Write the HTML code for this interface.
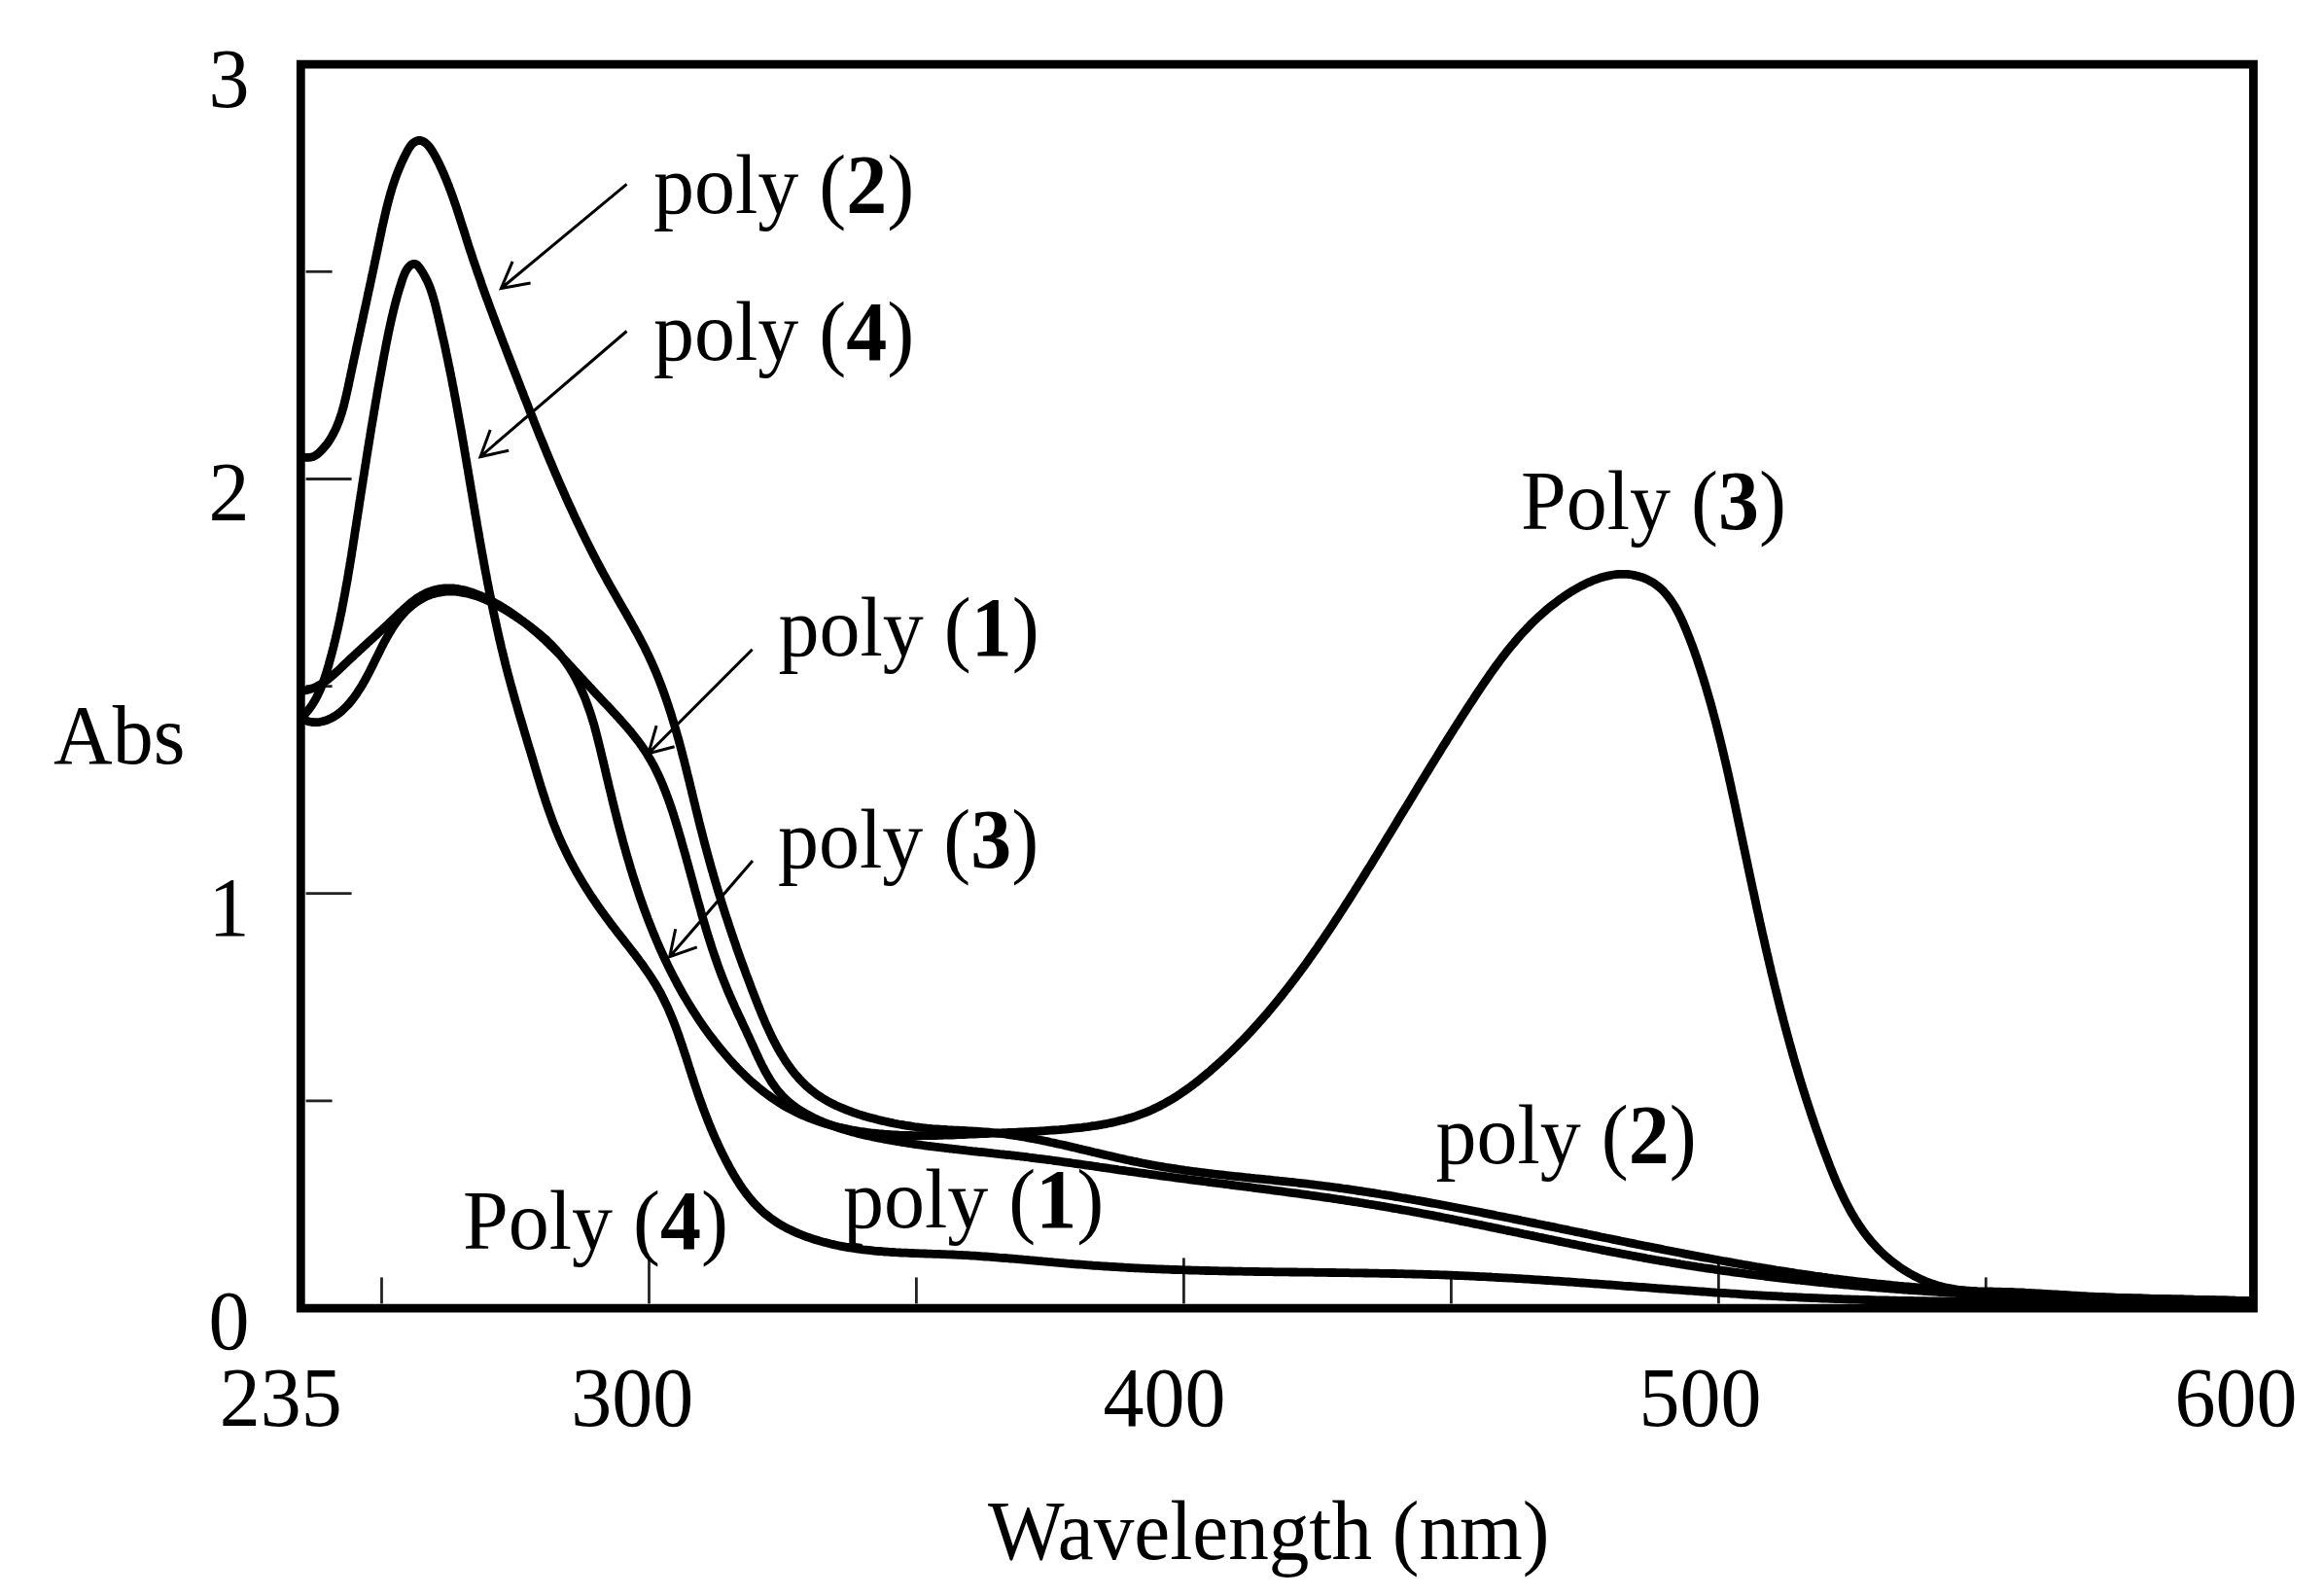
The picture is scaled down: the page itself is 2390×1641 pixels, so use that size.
<!DOCTYPE html>
<html><head><meta charset="utf-8"><title>UV-vis absorption spectra</title>
<style>html,body{margin:0;padding:0;background:#fff}svg{display:block}</style></head>
<body>
<svg width="2390" height="1641" viewBox="0 0 2390 1641">
<rect x="0" y="0" width="2390" height="1641" fill="#fff"/>
<g stroke="#222" stroke-width="2.8" fill="none"><line x1="392.5" y1="1340.4" x2="392.5" y2="1313.4"/><line x1="667.5" y1="1340.4" x2="667.5" y2="1293.4"/><line x1="942.4" y1="1340.4" x2="942.4" y2="1313.4"/><line x1="1217.4" y1="1340.4" x2="1217.4" y2="1293.4"/><line x1="1492.4" y1="1340.4" x2="1492.4" y2="1313.4"/><line x1="1767.4" y1="1340.4" x2="1767.4" y2="1293.4"/><line x1="2042.3" y1="1340.4" x2="2042.3" y2="1313.4"/><line x1="314.6" y1="1131.9" x2="341.6" y2="1131.9"/><line x1="314.6" y1="918.7" x2="361.6" y2="918.7"/><line x1="314.6" y1="705.6" x2="341.6" y2="705.6"/><line x1="314.6" y1="492.5" x2="361.6" y2="492.5"/><line x1="314.6" y1="279.3" x2="341.6" y2="279.3"/></g>
<g stroke="#000" stroke-width="8.8" fill="none" stroke-linejoin="round" stroke-linecap="butt">
<path id="p2" d="M307.9 469.7L310.6 470.1L313.4 470.3L316.2 470.4L318.9 470.3L321.5 469.7L323.8 468.6L326.0 467.2L328.0 465.6L329.9 463.8L331.7 461.9L333.4 459.9L335.1 457.9L336.7 455.9L338.2 453.7L339.6 451.6L340.9 449.3L342.2 447.1L343.4 444.8L344.6 442.4L345.7 440.0L346.7 437.6L347.7 435.1L348.7 432.6L349.6 430.1L350.4 427.6L351.3 425.0L352.0 422.4L352.8 419.8L353.5 417.1L354.2 414.5L354.8 411.8L355.5 409.1L356.1 406.4L356.7 403.7L357.3 401.1L357.9 398.4L358.5 395.7L359.0 393.0L359.6 390.3L360.2 387.6L360.7 384.9L361.3 382.3L361.9 379.6L362.4 377.0L363.0 374.3L363.6 371.7L364.1 369.0L364.7 366.4L365.3 363.8L365.8 361.2L366.4 358.5L366.9 355.9L367.5 353.3L368.1 350.7L368.6 348.1L369.2 345.5L369.8 342.9L370.3 340.3L370.9 337.7L371.4 335.1L372.0 332.5L372.6 329.9L373.1 327.4L373.7 324.8L374.2 322.2L374.8 319.6L375.4 317.0L375.9 314.5L376.5 311.9L377.0 309.3L377.6 306.7L378.1 304.2L378.7 301.6L379.2 299.0L379.8 296.4L380.4 293.9L380.9 291.3L381.5 288.7L382.0 286.1L382.6 283.5L383.1 281.0L383.7 278.4L384.2 275.8L384.8 273.2L385.3 270.6L385.9 268.0L386.4 265.4L387.0 262.8L387.5 260.2L388.1 257.6L388.6 255.0L389.2 252.3L389.7 249.7L390.3 247.1L390.8 244.5L391.4 241.8L391.9 239.2L392.5 236.6L393.0 233.9L393.6 231.3L394.2 228.7L394.8 226.0L395.4 223.4L396.0 220.8L396.6 218.1L397.2 215.5L397.9 212.9L398.5 210.3L399.2 207.7L399.9 205.1L400.6 202.5L401.3 199.9L402.1 197.4L402.8 194.8L403.6 192.2L404.4 189.7L405.3 187.2L406.1 184.7L407.0 182.1L407.9 179.7L408.9 177.2L409.9 174.7L410.9 172.3L411.9 169.8L413.0 167.4L414.1 165.0L415.2 162.6L416.4 160.3L417.6 157.9L418.9 155.4L420.3 152.9L421.9 150.5L423.6 148.3L425.6 146.5L427.8 145.2L430.1 144.5L432.4 144.4L434.6 145.1L436.8 146.3L438.8 148.0L440.7 150.0L442.5 152.3L444.1 154.7L445.6 157.1L447.0 159.5L448.3 161.8L449.5 164.2L450.7 166.5L451.9 168.9L453.0 171.3L454.1 173.7L455.2 176.1L456.3 178.5L457.3 181.0L458.3 183.4L459.3 185.8L460.3 188.3L461.3 190.8L462.2 193.3L463.2 195.8L464.1 198.3L465.0 200.8L465.9 203.3L466.8 205.8L467.6 208.3L468.5 210.8L469.4 213.4L470.2 215.9L471.0 218.5L471.9 221.0L472.7 223.6L473.5 226.1L474.3 228.7L475.1 231.2L475.9 233.8L476.8 236.3L477.6 238.9L478.4 241.4L479.2 244.0L480.0 246.6L480.8 249.1L481.6 251.7L482.4 254.2L483.3 256.8L484.1 259.3L485.0 261.8L485.8 264.4L486.6 266.9L487.5 269.4L488.4 272.0L489.2 274.5L490.1 277.0L490.9 279.6L491.8 282.1L492.7 284.6L493.6 287.1L494.5 289.6L495.3 292.1L496.2 294.7L497.1 297.2L498.0 299.7L498.9 302.2L499.8 304.7L500.7 307.2L501.7 309.7L502.6 312.2L503.5 314.7L504.4 317.2L505.3 319.7L506.3 322.2L507.2 324.7L508.1 327.2L509.1 329.7L510.0 332.2L510.9 334.7L511.9 337.2L512.8 339.7L513.7 342.1L514.7 344.6L515.6 347.1L516.6 349.6L517.5 352.1L518.5 354.6L519.5 357.1L520.4 359.6L521.4 362.1L522.3 364.5L523.3 367.0L524.2 369.5L525.2 372.0L526.2 374.5L527.1 377.0L528.1 379.5L529.1 381.9L530.0 384.4L531.0 386.9L532.0 389.4L532.9 391.9L533.9 394.4L534.9 396.9L535.8 399.4L536.8 401.9L537.8 404.3L538.7 406.8L539.7 409.3L540.7 411.8L541.7 414.3L542.7 416.8L543.6 419.3L544.6 421.8L545.6 424.2L546.6 426.7L547.6 429.2L548.6 431.7L549.5 434.2L550.5 436.7L551.5 439.1L552.5 441.6L553.5 444.1L554.5 446.6L555.5 449.1L556.5 451.5L557.6 454.0L558.6 456.5L559.6 459.0L560.6 461.4L561.6 463.9L562.6 466.4L563.7 468.8L564.7 471.3L565.7 473.8L566.8 476.2L567.8 478.7L568.9 481.2L569.9 483.6L570.9 486.1L572.0 488.5L573.1 491.0L574.1 493.4L575.2 495.9L576.2 498.3L577.3 500.8L578.4 503.2L579.5 505.7L580.6 508.1L581.6 510.5L582.7 513.0L583.8 515.4L584.9 517.8L586.0 520.3L587.2 522.7L588.3 525.1L589.4 527.5L590.5 530.0L591.6 532.4L592.8 534.8L593.9 537.2L595.1 539.6L596.2 542.0L597.4 544.4L598.5 546.8L599.7 549.2L600.9 551.6L602.0 554.0L603.2 556.4L604.4 558.7L605.6 561.1L606.8 563.5L608.0 565.9L609.2 568.3L610.4 570.6L611.7 573.0L612.9 575.4L614.1 577.7L615.4 580.1L616.6 582.4L617.9 584.8L619.1 587.1L620.4 589.5L621.7 591.8L623.0 594.1L624.2 596.5L625.5 598.8L626.8 601.1L628.1 603.5L629.5 605.8L630.8 608.1L632.1 610.4L633.4 612.7L634.8 615.1L636.1 617.4L637.4 619.7L638.7 622.0L640.1 624.3L641.4 626.6L642.7 628.9L644.1 631.2L645.4 633.6L646.7 635.9L648.0 638.2L649.3 640.5L650.6 642.8L651.9 645.2L653.2 647.5L654.5 649.8L655.8 652.2L657.0 654.5L658.3 656.9L659.5 659.2L660.7 661.6L662.0 664.0L663.2 666.3L664.3 668.7L665.5 671.1L666.7 673.5L667.8 675.9L668.9 678.3L670.0 680.7L671.1 683.2L672.2 685.6L673.2 688.0L674.3 690.5L675.3 692.9L676.3 695.4L677.3 697.9L678.3 700.4L679.2 702.8L680.2 705.3L681.1 707.8L682.0 710.3L682.9 712.8L683.8 715.3L684.7 717.9L685.6 720.4L686.4 722.9L687.3 725.5L688.1 728.0L688.9 730.5L689.8 733.1L690.6 735.6L691.3 738.2L692.1 740.8L692.9 743.3L693.7 745.9L694.4 748.5L695.2 751.1L695.9 753.6L696.6 756.2L697.4 758.8L698.1 761.4L698.8 764.0L699.5 766.6L700.2 769.2L700.9 771.8L701.5 774.4L702.2 777.0L702.9 779.6L703.6 782.2L704.2 784.8L704.9 787.4L705.5 790.0L706.2 792.6L706.8 795.3L707.5 797.9L708.1 800.5L708.8 803.1L709.4 805.7L710.0 808.3L710.7 810.9L711.3 813.5L711.9 816.2L712.6 818.8L713.2 821.4L713.8 824.0L714.5 826.6L715.1 829.2L715.7 831.8L716.4 834.4L717.0 837.0L717.7 839.6L718.3 842.2L718.9 844.8L719.6 847.4L720.2 850.0L720.9 852.6L721.6 855.2L722.2 857.7L722.9 860.3L723.6 862.9L724.2 865.5L724.9 868.0L725.6 870.6L726.3 873.2L727.0 875.7L727.7 878.3L728.4 880.9L729.1 883.4L729.8 886.0L730.5 888.5L731.2 891.1L731.9 893.6L732.7 896.1L733.4 898.7L734.1 901.2L734.9 903.8L735.6 906.3L736.4 908.8L737.1 911.4L737.9 913.9L738.6 916.4L739.4 919.0L740.2 921.5L741.0 924.0L741.7 926.5L742.5 929.1L743.3 931.6L744.1 934.1L744.9 936.6L745.7 939.1L746.5 941.7L747.4 944.2L748.2 946.7L749.0 949.2L749.8 951.7L750.7 954.2L751.5 956.8L752.4 959.3L753.2 961.8L754.1 964.3L754.9 966.8L755.8 969.3L756.7 971.9L757.5 974.4L758.4 976.9L759.3 979.4L760.2 981.9L761.1 984.4L762.0 987.0L762.9 989.5L763.8 992.0L764.8 994.5L765.7 997.0L766.6 999.6L767.5 1002.1L768.5 1004.6L769.4 1007.1L770.4 1009.7L771.4 1012.2L772.3 1014.7L773.3 1017.3L774.3 1019.8L775.2 1022.3L776.2 1024.9L777.2 1027.4L778.2 1029.9L779.2 1032.5L780.2 1035.0L781.3 1037.6L782.3 1040.1L783.3 1042.6L784.4 1045.2L785.5 1047.7L786.5 1050.2L787.6 1052.7L788.7 1055.2L789.9 1057.7L791.0 1060.1L792.2 1062.6L793.3 1065.0L794.5 1067.5L795.7 1069.9L797.0 1072.3L798.2 1074.7L799.5 1077.0L800.8 1079.4L802.1 1081.7L803.5 1084.0L804.9 1086.2L806.3 1088.5L807.7 1090.7L809.2 1092.9L810.7 1095.0L812.2 1097.2L813.8 1099.3L815.3 1101.3L817.0 1103.4L818.6 1105.4L820.3 1107.3L822.0 1109.2L823.8 1111.1L825.6 1113.0L827.5 1114.8L829.3 1116.6L831.3 1118.3L833.2 1120.0L835.2 1121.6L837.3 1123.2L839.4 1124.8L841.5 1126.3L843.7 1127.7L845.9 1129.1L848.2 1130.5L850.4 1131.8L852.8 1133.1L855.1 1134.3L857.5 1135.5L859.9 1136.7L862.4 1137.8L864.9 1138.9L867.4 1139.9L869.9 1141.0L872.4 1141.9L875.0 1142.9L877.5 1143.8L880.1 1144.7L882.7 1145.6L885.3 1146.4L887.9 1147.2L890.5 1148.0L893.1 1148.7L895.8 1149.4L898.4 1150.1L901.0 1150.8L903.6 1151.5L906.2 1152.1L908.9 1152.7L911.5 1153.3L914.1 1153.9L916.7 1154.4L919.3 1155.0L921.9 1155.5L924.6 1156.0L927.2 1156.4L929.8 1156.9L932.4 1157.3L935.0 1157.7L937.7 1158.1L940.3 1158.5L942.9 1158.8L945.5 1159.2L948.2 1159.5L950.8 1159.8L953.4 1160.1L956.1 1160.3L958.7 1160.6L961.4 1160.8L964.0 1161.0L966.7 1161.2L969.3 1161.4L972.0 1161.5L974.7 1161.7L977.3 1161.8L980.0 1162.0L982.7 1162.1L985.4 1162.2L988.0 1162.4L990.7 1162.5L993.4 1162.6L996.1 1162.8L998.7 1162.9L1001.4 1163.1L1004.1 1163.2L1006.7 1163.4L1009.4 1163.6L1012.1 1163.8L1014.7 1164.0L1017.4 1164.2L1020.1 1164.5L1022.7 1164.8L1025.4 1165.1L1028.0 1165.4L1030.7 1165.7L1033.3 1166.0L1035.9 1166.4L1038.6 1166.8L1041.2 1167.2L1043.8 1167.6L1046.5 1168.0L1049.1 1168.4L1051.7 1168.8L1054.3 1169.3L1057.0 1169.8L1059.6 1170.3L1062.2 1170.7L1064.8 1171.2L1067.4 1171.8L1070.0 1172.3L1072.7 1172.8L1075.3 1173.3L1077.9 1173.9L1080.5 1174.5L1083.1 1175.0L1085.7 1175.6L1088.3 1176.2L1090.9 1176.7L1093.5 1177.3L1096.1 1177.9L1098.7 1178.5L1101.3 1179.1L1103.9 1179.7L1106.5 1180.3L1109.1 1181.0L1111.7 1181.6L1114.3 1182.2L1116.9 1182.8L1119.5 1183.4L1122.1 1184.0L1124.7 1184.7L1127.3 1185.3L1129.9 1185.9L1132.5 1186.5L1135.1 1187.1L1137.7 1187.7L1140.3 1188.3L1142.9 1188.9L1145.5 1189.5L1148.1 1190.1L1150.7 1190.7L1153.3 1191.3L1155.9 1191.9L1158.5 1192.5L1161.1 1193.0L1163.7 1193.6L1166.3 1194.2L1169.0 1194.7L1171.6 1195.2L1174.2 1195.8L1176.8 1196.3L1179.4 1196.8L1182.1 1197.3L1184.7 1197.8L1187.3 1198.2L1189.9 1198.7L1192.6 1199.2L1195.2 1199.6L1197.8 1200.1L1200.5 1200.5L1203.1 1200.9L1205.7 1201.3L1208.4 1201.7L1211.0 1202.1L1213.7 1202.5L1216.3 1202.9L1218.9 1203.3L1221.6 1203.6L1224.2 1204.0L1226.9 1204.4L1229.5 1204.7L1232.2 1205.0L1234.8 1205.4L1237.5 1205.7L1240.1 1206.0L1242.8 1206.4L1245.4 1206.7L1248.1 1207.0L1250.8 1207.3L1253.4 1207.6L1256.1 1207.9L1258.7 1208.2L1261.4 1208.5L1264.1 1208.8L1266.7 1209.1L1269.4 1209.4L1272.0 1209.6L1274.7 1209.9L1277.4 1210.2L1280.0 1210.5L1282.7 1210.8L1285.3 1211.0L1288.0 1211.3L1290.7 1211.6L1293.3 1211.8L1296.0 1212.1L1298.7 1212.4L1301.3 1212.7L1304.0 1212.9L1306.6 1213.2L1309.3 1213.5L1312.0 1213.8L1314.6 1214.0L1317.3 1214.3L1320.0 1214.6L1322.6 1214.9L1325.3 1215.2L1327.9 1215.4L1330.6 1215.7L1333.3 1216.0L1335.9 1216.3L1338.6 1216.6L1341.2 1216.9L1343.9 1217.2L1346.5 1217.5L1349.2 1217.8L1351.8 1218.2L1354.5 1218.5L1357.1 1218.8L1359.8 1219.2L1362.4 1219.5L1365.1 1219.8L1367.7 1220.2L1370.4 1220.5L1373.0 1220.9L1375.7 1221.2L1378.3 1221.6L1381.0 1222.0L1383.6 1222.3L1386.2 1222.7L1388.9 1223.1L1391.5 1223.5L1394.2 1223.9L1396.8 1224.3L1399.4 1224.7L1402.1 1225.1L1404.7 1225.5L1407.4 1225.9L1410.0 1226.3L1412.6 1226.7L1415.3 1227.1L1417.9 1227.5L1420.5 1228.0L1423.2 1228.4L1425.8 1228.8L1428.4 1229.2L1431.1 1229.7L1433.7 1230.1L1436.3 1230.6L1438.9 1231.0L1441.6 1231.5L1444.2 1231.9L1446.8 1232.4L1449.5 1232.8L1452.1 1233.3L1454.7 1233.7L1457.3 1234.2L1460.0 1234.7L1462.6 1235.1L1465.2 1235.6L1467.8 1236.1L1470.5 1236.6L1473.1 1237.1L1475.7 1237.5L1478.3 1238.0L1480.9 1238.5L1483.6 1239.0L1486.2 1239.5L1488.8 1240.0L1491.4 1240.5L1494.1 1241.0L1496.7 1241.5L1499.3 1242.0L1501.9 1242.5L1504.5 1243.0L1507.2 1243.5L1509.8 1244.0L1512.4 1244.5L1515.0 1245.0L1517.6 1245.5L1520.3 1246.0L1522.9 1246.5L1525.5 1247.1L1528.1 1247.6L1530.7 1248.1L1533.4 1248.6L1536.0 1249.1L1538.6 1249.7L1541.2 1250.2L1543.8 1250.7L1546.5 1251.2L1549.1 1251.8L1551.7 1252.3L1554.3 1252.8L1556.9 1253.4L1559.5 1253.9L1562.2 1254.4L1564.8 1255.0L1567.4 1255.5L1570.0 1256.0L1572.6 1256.6L1575.2 1257.1L1577.9 1257.6L1580.5 1258.2L1583.1 1258.7L1585.7 1259.2L1588.3 1259.8L1591.0 1260.3L1593.6 1260.9L1596.2 1261.4L1598.8 1261.9L1601.4 1262.5L1604.0 1263.0L1606.7 1263.6L1609.3 1264.1L1611.9 1264.6L1614.5 1265.2L1617.1 1265.7L1619.7 1266.3L1622.4 1266.8L1625.0 1267.3L1627.6 1267.9L1630.2 1268.4L1632.8 1269.0L1635.4 1269.5L1638.1 1270.1L1640.7 1270.6L1643.3 1271.1L1645.9 1271.7L1648.5 1272.2L1651.2 1272.8L1653.8 1273.3L1656.4 1273.8L1659.0 1274.4L1661.6 1274.9L1664.2 1275.4L1666.9 1276.0L1669.5 1276.5L1672.1 1277.0L1674.7 1277.6L1677.3 1278.1L1680.0 1278.6L1682.6 1279.2L1685.2 1279.7L1687.8 1280.2L1690.4 1280.8L1693.1 1281.3L1695.7 1281.8L1698.3 1282.3L1700.9 1282.9L1703.5 1283.4L1706.2 1283.9L1708.8 1284.4L1711.4 1285.0L1714.0 1285.5L1716.6 1286.0L1719.3 1286.5L1721.9 1287.0L1724.5 1287.5L1727.1 1288.0L1729.8 1288.5L1732.4 1289.1L1735.0 1289.6L1737.6 1290.1L1740.2 1290.6L1742.9 1291.1L1745.5 1291.6L1748.1 1292.1L1750.7 1292.6L1753.4 1293.1L1756.0 1293.5L1758.6 1294.0L1761.2 1294.5L1763.9 1295.0L1766.5 1295.5L1769.1 1296.0L1771.8 1296.5L1774.4 1296.9L1777.0 1297.4L1779.6 1297.9L1782.3 1298.4L1784.9 1298.8L1787.5 1299.3L1790.2 1299.7L1792.8 1300.2L1795.4 1300.7L1798.0 1301.1L1800.7 1301.6L1803.3 1302.0L1805.9 1302.5L1808.6 1302.9L1811.2 1303.4L1813.8 1303.8L1816.5 1304.2L1819.1 1304.7L1821.7 1305.1L1824.4 1305.5L1827.0 1306.0L1829.6 1306.4L1832.3 1306.8L1834.9 1307.2L1837.5 1307.6L1840.2 1308.0L1842.8 1308.4L1845.5 1308.9L1848.1 1309.3L1850.7 1309.6L1853.4 1310.0L1856.0 1310.4L1858.7 1310.8L1861.3 1311.2L1863.9 1311.6L1866.6 1312.0L1869.2 1312.3L1871.9 1312.7L1874.5 1313.1L1877.2 1313.4L1879.8 1313.8L1882.4 1314.1L1885.1 1314.5L1887.7 1314.8L1890.4 1315.2L1893.0 1315.5L1895.7 1315.9L1898.3 1316.2L1901.0 1316.5L1903.6 1316.8L1906.3 1317.2L1908.9 1317.5L1911.6 1317.8L1914.2 1318.1L1916.9 1318.4L1919.5 1318.7L1922.2 1319.0L1924.8 1319.3L1927.5 1319.6L1930.1 1319.9L1932.8 1320.1L1935.4 1320.4L1938.1 1320.7L1940.8 1321.0L1943.4 1321.2L1946.1 1321.5L1948.7 1321.8L1951.4 1322.0L1954.0 1322.3L1956.7 1322.5L1959.4 1322.8L1962.0 1323.0L1964.7 1323.2L1967.3 1323.5L1970.0 1323.7L1972.7 1323.9L1975.3 1324.2L1978.0 1324.4L1980.6 1324.6L1983.3 1324.8L1986.0 1325.1L1988.6 1325.3L1991.3 1325.5L1994.0 1325.7L1996.6 1325.9L1999.3 1326.1L2002.0 1326.3L2004.6 1326.5L2007.3 1326.7L2010.0 1326.8L2012.6 1327.0L2015.3 1327.2L2018.0 1327.4L2020.6 1327.6L2023.3 1327.7L2026.0 1327.9L2028.6 1328.1L2031.3 1328.3L2034.0 1328.4L2036.6 1328.6L2039.3 1328.7L2042.0 1328.9L2044.6 1329.0L2047.3 1329.2L2050.0 1329.3L2052.6 1329.5L2055.3 1329.6L2058.0 1329.8L2060.7 1329.9L2063.3 1330.1L2066.0 1330.2L2068.7 1330.3L2071.3 1330.5L2074.0 1330.6L2076.7 1330.7L2079.4 1330.8L2082.0 1331.0L2084.7 1331.1L2087.4 1331.2L2090.0 1331.3L2092.7 1331.4L2095.4 1331.6L2098.1 1331.7L2100.7 1331.8L2103.4 1331.9L2106.1 1332.0L2108.7 1332.1L2111.4 1332.2L2114.1 1332.3L2116.8 1332.4L2119.4 1332.5L2122.1 1332.6L2124.8 1332.7L2127.5 1332.8L2130.1 1332.9L2132.8 1333.0L2135.5 1333.1L2138.2 1333.2L2140.8 1333.3L2143.5 1333.3L2146.2 1333.4L2148.8 1333.5L2151.5 1333.6L2154.2 1333.7L2156.9 1333.8L2159.5 1333.8L2162.2 1333.9L2164.9 1334.0L2167.6 1334.1L2170.2 1334.1L2172.9 1334.2L2175.6 1334.3L2178.2 1334.4L2180.9 1334.4L2183.6 1334.5L2186.3 1334.6L2188.9 1334.7L2191.6 1334.7L2194.3 1334.8L2197.0 1334.9L2199.6 1334.9L2202.3 1335.0L2205.0 1335.1L2207.6 1335.1L2210.3 1335.2L2213.0 1335.3L2215.6 1335.3L2218.3 1335.4L2221.0 1335.4L2223.7 1335.5L2226.3 1335.6L2229.0 1335.6L2231.7 1335.7L2234.3 1335.8L2237.0 1335.8L2239.7 1335.9L2242.3 1335.9L2245.0 1336.0L2247.7 1336.1L2250.3 1336.1L2253.0 1336.2L2255.7 1336.2L2258.4 1336.3L2261.0 1336.4L2263.7 1336.4L2266.4 1336.5L2269.0 1336.5L2271.7 1336.6L2274.3 1336.7L2277.0 1336.7L2279.7 1336.8L2282.3 1336.9L2285.0 1336.9L2287.7 1337.0L2290.3 1337.0L2293.0 1337.1L2295.7 1337.2L2298.3 1337.2L2301.0 1337.3L2303.6 1337.4L2306.3 1337.4L2309.0 1337.5L2311.6 1337.6L2314.3 1337.6L2316.9 1337.7"/>
<path id="p4" d="M310.4 737.5L312.4 735.5L314.3 733.5L316.1 731.4L317.8 729.2L319.4 727.0L321.0 724.7L322.5 722.4L323.9 720.0L325.2 717.6L326.5 715.1L327.7 712.6L328.9 710.1L330.0 707.5L331.0 704.9L332.0 702.3L333.0 699.6L333.9 697.0L334.8 694.3L335.7 691.6L336.5 688.8L337.3 686.1L338.1 683.4L338.8 680.6L339.6 677.9L340.3 675.2L341.1 672.4L341.8 669.7L342.5 667.0L343.2 664.2L343.8 661.5L344.5 658.8L345.2 656.0L345.8 653.3L346.4 650.6L347.1 647.8L347.7 645.1L348.3 642.4L348.9 639.6L349.5 636.9L350.0 634.2L350.6 631.4L351.2 628.7L351.7 626.0L352.2 623.2L352.8 620.5L353.3 617.8L353.8 615.0L354.3 612.3L354.8 609.6L355.3 606.8L355.8 604.1L356.3 601.3L356.8 598.6L357.3 595.9L357.8 593.1L358.2 590.4L358.7 587.6L359.1 584.9L359.6 582.2L360.0 579.4L360.5 576.7L360.9 573.9L361.4 571.2L361.8 568.4L362.2 565.7L362.7 562.9L363.1 560.1L363.5 557.4L364.0 554.6L364.4 551.9L364.8 549.1L365.2 546.3L365.7 543.6L366.1 540.8L366.5 538.0L366.9 535.3L367.4 532.5L367.8 529.7L368.2 526.9L368.7 524.2L369.1 521.4L369.5 518.6L369.9 515.8L370.4 513.0L370.8 510.3L371.2 507.5L371.7 504.7L372.1 501.9L372.5 499.1L373.0 496.3L373.4 493.5L373.8 490.8L374.3 488.0L374.7 485.2L375.1 482.4L375.6 479.6L376.0 476.8L376.5 474.0L376.9 471.2L377.3 468.4L377.8 465.6L378.2 462.8L378.7 460.1L379.1 457.3L379.6 454.5L380.0 451.7L380.5 448.9L380.9 446.1L381.4 443.3L381.8 440.5L382.3 437.7L382.8 435.0L383.2 432.2L383.7 429.4L384.2 426.6L384.6 423.8L385.1 421.0L385.6 418.3L386.0 415.5L386.5 412.7L387.0 409.9L387.5 407.2L387.9 404.4L388.4 401.6L388.9 398.9L389.4 396.1L389.9 393.3L390.4 390.6L390.9 387.8L391.4 385.1L391.9 382.3L392.4 379.6L392.9 376.8L393.4 374.1L393.9 371.3L394.4 368.6L394.9 365.8L395.4 363.1L396.0 360.4L396.5 357.6L397.0 354.9L397.5 352.2L398.1 349.5L398.6 346.8L399.2 344.0L399.7 341.3L400.3 338.6L400.9 335.9L401.5 333.1L402.1 330.4L402.7 327.7L403.3 325.0L404.0 322.2L404.6 319.5L405.3 316.8L406.0 314.0L406.7 311.2L407.5 308.5L408.2 305.7L409.0 302.9L409.8 300.2L410.6 297.4L411.5 294.6L412.4 291.8L413.3 288.9L414.2 286.1L415.3 283.4L416.4 280.7L417.6 278.2L419.1 276.0L420.7 274.0L422.6 272.4L424.7 271.3L426.9 271.3L428.9 272.4L430.7 274.4L432.4 276.7L434.0 279.1L435.5 281.6L436.9 284.1L438.2 286.6L439.5 289.1L440.6 291.7L441.7 294.3L442.7 296.9L443.6 299.6L444.5 302.3L445.3 305.0L446.1 307.7L446.9 310.4L447.6 313.1L448.3 315.9L448.9 318.6L449.6 321.3L450.2 324.1L450.9 326.8L451.5 329.6L452.1 332.3L452.8 335.0L453.4 337.8L454.0 340.5L454.6 343.2L455.2 346.0L455.9 348.7L456.5 351.4L457.1 354.2L457.7 356.9L458.3 359.7L458.8 362.4L459.4 365.1L460.0 367.9L460.6 370.6L461.1 373.4L461.7 376.1L462.3 378.8L462.8 381.6L463.4 384.3L463.9 387.1L464.5 389.8L465.0 392.6L465.5 395.3L466.1 398.1L466.6 400.8L467.1 403.6L467.6 406.4L468.2 409.1L468.7 411.9L469.2 414.6L469.7 417.4L470.2 420.1L470.7 422.9L471.2 425.7L471.7 428.4L472.2 431.2L472.7 434.0L473.2 436.7L473.7 439.5L474.2 442.2L474.7 445.0L475.1 447.8L475.6 450.5L476.1 453.3L476.6 456.1L477.0 458.8L477.5 461.6L478.0 464.4L478.5 467.2L478.9 469.9L479.4 472.7L479.9 475.5L480.3 478.2L480.8 481.0L481.3 483.8L481.7 486.5L482.2 489.3L482.7 492.1L483.1 494.9L483.6 497.6L484.1 500.4L484.5 503.2L485.0 505.9L485.5 508.7L485.9 511.5L486.4 514.3L486.9 517.0L487.3 519.8L487.8 522.6L488.3 525.3L488.7 528.1L489.2 530.9L489.7 533.6L490.2 536.4L490.6 539.2L491.1 542.0L491.6 544.7L492.1 547.5L492.6 550.3L493.0 553.0L493.5 555.8L494.0 558.6L494.5 561.3L495.0 564.1L495.5 566.9L496.0 569.6L496.5 572.4L497.0 575.1L497.5 577.9L498.0 580.7L498.5 583.4L499.0 586.2L499.5 588.9L500.1 591.7L500.6 594.5L501.1 597.2L501.6 600.0L502.2 602.7L502.7 605.5L503.2 608.2L503.8 611.0L504.3 613.7L504.9 616.5L505.4 619.2L506.0 622.0L506.6 624.7L507.1 627.5L507.7 630.2L508.3 632.9L508.9 635.7L509.5 638.4L510.1 641.2L510.7 643.9L511.3 646.6L511.9 649.4L512.5 652.1L513.1 654.8L513.7 657.6L514.4 660.3L515.0 663.0L515.6 665.7L516.3 668.5L517.0 671.2L517.6 673.9L518.3 676.6L519.0 679.3L519.6 682.1L520.3 684.8L521.0 687.5L521.7 690.2L522.4 692.9L523.1 695.6L523.9 698.3L524.6 701.0L525.3 703.7L526.1 706.4L526.8 709.1L527.6 711.8L528.3 714.5L529.1 717.2L529.8 719.9L530.6 722.6L531.4 725.3L532.2 728.0L532.9 730.7L533.7 733.4L534.5 736.1L535.3 738.8L536.1 741.4L536.9 744.1L537.7 746.8L538.5 749.5L539.3 752.2L540.1 754.9L540.9 757.6L541.7 760.3L542.5 763.0L543.3 765.7L544.1 768.3L545.0 771.0L545.8 773.7L546.6 776.4L547.4 779.1L548.2 781.8L549.0 784.5L549.8 787.2L550.6 789.9L551.4 792.6L552.2 795.3L553.0 798.0L553.9 800.7L554.7 803.4L555.5 806.1L556.3 808.8L557.2 811.5L558.0 814.2L558.9 816.8L559.8 819.5L560.6 822.2L561.5 824.9L562.4 827.5L563.3 830.2L564.2 832.8L565.2 835.5L566.1 838.1L567.1 840.8L568.0 843.4L569.0 846.0L570.0 848.6L571.1 851.2L572.1 853.8L573.2 856.4L574.2 859.0L575.4 861.6L576.5 864.1L577.6 866.7L578.8 869.2L580.0 871.7L581.2 874.2L582.4 876.7L583.6 879.2L584.9 881.7L586.2 884.2L587.5 886.7L588.8 889.1L590.1 891.6L591.5 894.0L592.8 896.5L594.2 898.9L595.6 901.3L597.0 903.7L598.5 906.1L599.9 908.5L601.4 910.9L602.9 913.3L604.4 915.6L605.9 918.0L607.4 920.3L609.0 922.7L610.5 925.0L612.1 927.3L613.7 929.7L615.3 932.0L616.9 934.3L618.5 936.6L620.2 938.8L621.8 941.1L623.5 943.4L625.2 945.7L626.8 947.9L628.5 950.2L630.3 952.4L632.0 954.6L633.7 956.9L635.4 959.1L637.2 961.3L638.9 963.5L640.7 965.8L642.4 968.0L644.1 970.2L645.9 972.4L647.6 974.6L649.3 976.9L651.1 979.1L652.8 981.3L654.5 983.6L656.2 985.8L657.8 988.1L659.5 990.3L661.2 992.6L662.8 994.9L664.4 997.2L666.0 999.5L667.6 1001.8L669.1 1004.1L670.6 1006.4L672.1 1008.8L673.6 1011.2L675.0 1013.5L676.4 1016.0L677.8 1018.4L679.2 1020.8L680.5 1023.3L681.7 1025.8L683.0 1028.3L684.2 1030.8L685.4 1033.3L686.6 1035.8L687.7 1038.4L688.8 1041.0L689.9 1043.5L691.0 1046.1L692.0 1048.7L693.1 1051.3L694.1 1054.0L695.1 1056.6L696.1 1059.3L697.0 1061.9L698.0 1064.6L698.9 1067.2L699.8 1069.9L700.7 1072.6L701.7 1075.3L702.5 1077.9L703.4 1080.6L704.3 1083.3L705.2 1086.0L706.1 1088.7L706.9 1091.4L707.8 1094.1L708.6 1096.8L709.5 1099.5L710.4 1102.2L711.2 1104.8L712.1 1107.5L713.0 1110.2L713.8 1112.9L714.7 1115.5L715.6 1118.2L716.5 1120.9L717.4 1123.5L718.3 1126.2L719.2 1128.8L720.2 1131.4L721.1 1134.1L722.1 1136.7L723.0 1139.3L724.0 1141.9L725.0 1144.5L726.0 1147.1L727.0 1149.7L728.0 1152.3L729.0 1154.9L730.1 1157.5L731.1 1160.0L732.2 1162.6L733.3 1165.2L734.4 1167.7L735.5 1170.3L736.7 1172.8L737.8 1175.4L739.0 1177.9L740.2 1180.5L741.4 1183.0L742.6 1185.5L743.9 1188.0L745.2 1190.5L746.4 1193.1L747.8 1195.6L749.1 1198.1L750.4 1200.6L751.8 1203.0L753.2 1205.5L754.6 1208.0L756.1 1210.4L757.6 1212.8L759.1 1215.2L760.6 1217.6L762.2 1220.0L763.8 1222.3L765.5 1224.6L767.1 1226.9L768.9 1229.1L770.6 1231.3L772.4 1233.4L774.2 1235.6L776.1 1237.6L778.0 1239.7L780.0 1241.7L781.9 1243.6L784.0 1245.5L786.1 1247.3L788.2 1249.1L790.4 1250.8L792.6 1252.5L794.9 1254.1L797.2 1255.7L799.5 1257.2L801.9 1258.7L804.3 1260.1L806.8 1261.5L809.2 1262.8L811.7 1264.1L814.3 1265.3L816.8 1266.5L819.4 1267.6L822.0 1268.7L824.7 1269.8L827.3 1270.8L830.0 1271.8L832.6 1272.7L835.3 1273.6L838.0 1274.5L840.8 1275.3L843.5 1276.1L846.2 1276.9L848.9 1277.6L851.7 1278.3L854.4 1279.0L857.1 1279.6L859.9 1280.2L862.6 1280.8L865.4 1281.3L868.1 1281.8L870.9 1282.3L873.7 1282.8L876.4 1283.2L879.2 1283.7L882.0 1284.1L884.7 1284.4L887.5 1284.8L890.3 1285.1L893.1 1285.4L895.8 1285.7L898.6 1286.0L901.4 1286.3L904.2 1286.5L907.0 1286.7L909.8 1287.0L912.6 1287.1L915.4 1287.3L918.2 1287.5L921.0 1287.7L923.8 1287.8L926.6 1288.0L929.4 1288.1L932.2 1288.2L935.0 1288.4L937.8 1288.5L940.6 1288.6L943.4 1288.7L946.2 1288.8L949.0 1288.9L951.8 1289.0L954.6 1289.1L957.4 1289.2L960.2 1289.3L963.0 1289.4L965.8 1289.4L968.7 1289.6L971.5 1289.7L974.3 1289.8L977.1 1289.9L979.9 1290.0L982.7 1290.1L985.5 1290.3L988.3 1290.4L991.1 1290.6L993.9 1290.7L996.7 1290.9L999.5 1291.1L1002.3 1291.2L1005.1 1291.4L1007.9 1291.6L1010.7 1291.8L1013.5 1292.0L1016.3 1292.2L1019.1 1292.4L1021.9 1292.6L1024.7 1292.8L1027.5 1293.1L1030.3 1293.3L1033.1 1293.5L1035.9 1293.7L1038.7 1294.0L1041.5 1294.2L1044.3 1294.4L1047.1 1294.7L1049.9 1294.9L1052.7 1295.2L1055.5 1295.4L1058.3 1295.7L1061.1 1295.9L1063.9 1296.1L1066.7 1296.4L1069.5 1296.6L1072.3 1296.9L1075.1 1297.1L1077.9 1297.4L1080.7 1297.6L1083.5 1297.9L1086.3 1298.1L1089.1 1298.4L1091.9 1298.6L1094.7 1298.8L1097.5 1299.1L1100.3 1299.3L1103.1 1299.5L1105.9 1299.8L1108.7 1300.0L1111.5 1300.2L1114.3 1300.4L1117.1 1300.6L1119.9 1300.8L1122.7 1301.0L1125.5 1301.3L1128.3 1301.4L1131.1 1301.6L1133.9 1301.8L1136.7 1302.0L1139.5 1302.2L1142.3 1302.4L1145.1 1302.5L1147.9 1302.7L1150.7 1302.9L1153.5 1303.0L1156.3 1303.2L1159.1 1303.3L1161.9 1303.5L1164.7 1303.6L1167.5 1303.8L1170.3 1303.9L1173.1 1304.1L1175.9 1304.2L1178.7 1304.3L1181.5 1304.4L1184.3 1304.6L1187.1 1304.7L1189.9 1304.8L1192.7 1304.9L1195.5 1305.0L1198.3 1305.1L1201.1 1305.2L1203.9 1305.4L1206.7 1305.5L1209.5 1305.5L1212.3 1305.6L1215.1 1305.7L1217.9 1305.8L1220.7 1305.9L1223.5 1306.0L1226.3 1306.1L1229.1 1306.2L1231.9 1306.2L1234.7 1306.3L1237.5 1306.4L1240.3 1306.5L1243.1 1306.5L1245.9 1306.6L1248.8 1306.7L1251.6 1306.7L1254.4 1306.8L1257.2 1306.9L1260.0 1306.9L1262.8 1307.0L1265.6 1307.0L1268.4 1307.1L1271.2 1307.1L1274.0 1307.2L1276.8 1307.2L1279.6 1307.3L1282.4 1307.3L1285.2 1307.4L1288.0 1307.4L1290.8 1307.5L1293.6 1307.5L1296.4 1307.6L1299.2 1307.6L1302.1 1307.6L1304.9 1307.7L1307.7 1307.7L1310.5 1307.8L1313.3 1307.8L1316.1 1307.8L1318.9 1307.9L1321.7 1307.9L1324.5 1307.9L1327.3 1308.0L1330.1 1308.0L1332.9 1308.0L1335.7 1308.1L1338.5 1308.1L1341.3 1308.1L1344.1 1308.2L1346.9 1308.2L1349.8 1308.2L1352.6 1308.3L1355.4 1308.3L1358.2 1308.4L1361.0 1308.4L1363.8 1308.4L1366.6 1308.5L1369.4 1308.5L1372.2 1308.5L1375.0 1308.6L1377.8 1308.6L1380.6 1308.6L1383.4 1308.7L1386.2 1308.7L1389.0 1308.8L1391.8 1308.8L1394.6 1308.8L1397.5 1308.9L1400.3 1308.9L1403.1 1309.0L1405.9 1309.0L1408.7 1309.1L1411.5 1309.1L1414.3 1309.2L1417.1 1309.2L1419.9 1309.3L1422.7 1309.3L1425.5 1309.4L1428.3 1309.4L1431.1 1309.5L1433.9 1309.5L1436.7 1309.6L1439.5 1309.7L1442.3 1309.7L1445.1 1309.8L1448.0 1309.9L1450.8 1309.9L1453.6 1310.0L1456.4 1310.1L1459.2 1310.1L1462.0 1310.2L1464.8 1310.3L1467.6 1310.4L1470.4 1310.5L1473.2 1310.6L1476.0 1310.7L1478.8 1310.7L1481.6 1310.8L1484.4 1310.9L1487.2 1311.0L1490.0 1311.1L1492.8 1311.2L1495.6 1311.4L1498.4 1311.5L1501.2 1311.6L1504.0 1311.7L1506.8 1311.8L1509.6 1311.9L1512.4 1312.1L1515.2 1312.2L1518.0 1312.3L1520.8 1312.5L1523.6 1312.6L1526.4 1312.7L1529.3 1312.9L1532.1 1313.0L1534.9 1313.2L1537.7 1313.3L1540.5 1313.5L1543.3 1313.6L1546.1 1313.8L1548.9 1313.9L1551.7 1314.1L1554.5 1314.2L1557.3 1314.4L1560.1 1314.6L1562.9 1314.7L1565.7 1314.9L1568.5 1315.1L1571.3 1315.2L1574.1 1315.4L1576.9 1315.6L1579.7 1315.8L1582.5 1315.9L1585.3 1316.1L1588.1 1316.3L1590.9 1316.5L1593.7 1316.7L1596.5 1316.9L1599.3 1317.1L1602.1 1317.2L1604.9 1317.4L1607.7 1317.6L1610.5 1317.8L1613.3 1318.0L1616.1 1318.2L1618.9 1318.4L1621.7 1318.6L1624.5 1318.8L1627.3 1319.0L1630.1 1319.2L1632.9 1319.4L1635.7 1319.6L1638.5 1319.8L1641.3 1320.0L1644.1 1320.2L1646.9 1320.4L1649.7 1320.6L1652.5 1320.8L1655.3 1321.0L1658.1 1321.2L1660.9 1321.4L1663.7 1321.6L1666.5 1321.8L1669.3 1322.1L1672.1 1322.3L1674.9 1322.5L1677.7 1322.7L1680.5 1322.9L1683.3 1323.1L1686.1 1323.3L1688.9 1323.5L1691.7 1323.7L1694.5 1323.9L1697.3 1324.1L1700.0 1324.3L1702.8 1324.5L1705.6 1324.8L1708.4 1325.0L1711.2 1325.2L1714.0 1325.4L1716.8 1325.6L1719.6 1325.8L1722.4 1326.0L1725.2 1326.2L1728.0 1326.4L1730.8 1326.6L1733.6 1326.8L1736.4 1327.0L1739.2 1327.2L1742.0 1327.4L1744.8 1327.6L1747.6 1327.8L1750.4 1328.0L1753.2 1328.2L1756.0 1328.4L1758.8 1328.6L1761.6 1328.8L1764.4 1329.0L1767.2 1329.1L1770.0 1329.3L1772.8 1329.5L1775.6 1329.7L1778.4 1329.9L1781.2 1330.1L1784.0 1330.2L1786.8 1330.4L1789.6 1330.6L1792.4 1330.8L1795.2 1331.0L1798.0 1331.1L1800.8 1331.3L1803.6 1331.5L1806.4 1331.6L1809.2 1331.8L1812.0 1332.0L1814.8 1332.1L1817.6 1332.3L1820.4 1332.4L1823.2 1332.6L1826.0 1332.7L1828.8 1332.9L1831.6 1333.0L1834.4 1333.2L1837.2 1333.3L1840.1 1333.5L1842.9 1333.6L1845.7 1333.7L1848.5 1333.9L1851.3 1334.0L1854.1 1334.1L1856.9 1334.3L1859.7 1334.4L1862.5 1334.5L1865.3 1334.6L1868.1 1334.7L1870.9 1334.9L1873.7 1335.0L1876.5 1335.1L1879.3 1335.2L1882.1 1335.3L1884.9 1335.4L1887.7 1335.5L1890.5 1335.6L1893.3 1335.7L1896.1 1335.8L1898.9 1335.9L1901.7 1336.0L1904.5 1336.1L1907.3 1336.1L1910.1 1336.2L1912.9 1336.3L1915.7 1336.4L1918.5 1336.5L1921.3 1336.5L1924.1 1336.6L1926.9 1336.7L1929.7 1336.8L1932.6 1336.8L1935.4 1336.9L1938.2 1337.0L1941.0 1337.0L1943.8 1337.1L1946.6 1337.1L1949.4 1337.2L1952.2 1337.3L1955.0 1337.3L1957.8 1337.4L1960.6 1337.4L1963.4 1337.5L1966.2 1337.5L1969.0 1337.6L1971.8 1337.6L1974.6 1337.7L1977.4 1337.7L1980.2 1337.7L1983.0 1337.8L1985.8 1337.8L1988.7 1337.9L1991.5 1337.9L1994.3 1337.9L1997.1 1338.0L1999.9 1338.0L2002.7 1338.0L2005.5 1338.0L2008.3 1338.1L2011.1 1338.1L2013.9 1338.1L2016.7 1338.1L2019.5 1338.2L2022.3 1338.2L2025.1 1338.2L2027.9 1338.2L2030.7 1338.2L2033.5 1338.3L2036.4 1338.3L2039.2 1338.3L2042.0 1338.3L2044.8 1338.3L2047.6 1338.3L2050.4 1338.3L2053.2 1338.4L2056.0 1338.4L2058.8 1338.4L2061.6 1338.4L2064.4 1338.4L2067.2 1338.4L2070.0 1338.4L2072.8 1338.4L2075.6 1338.4L2078.5 1338.4L2081.3 1338.4L2084.1 1338.4L2086.9 1338.4L2089.7 1338.4L2092.5 1338.4L2095.3 1338.4L2098.1 1338.4L2100.9 1338.4L2103.7 1338.4L2106.5 1338.4L2109.3 1338.4L2112.1 1338.4L2114.9 1338.4L2117.7 1338.4L2120.6 1338.4L2123.4 1338.4L2126.2 1338.4L2129.0 1338.4L2131.8 1338.4L2134.6 1338.4L2137.4 1338.4L2140.2 1338.4L2143.0 1338.3L2145.8 1338.3L2148.6 1338.3L2151.4 1338.3L2154.2 1338.3L2157.0 1338.3L2159.8 1338.3L2162.7 1338.3L2165.5 1338.3L2168.3 1338.3L2171.1 1338.3L2173.9 1338.3L2176.7 1338.3L2179.5 1338.2L2182.3 1338.2L2185.1 1338.2L2187.9 1338.2L2190.7 1338.2L2193.5 1338.2L2196.3 1338.2L2199.1 1338.2L2202.0 1338.2L2204.8 1338.2L2207.6 1338.2L2210.4 1338.2L2213.2 1338.2L2216.0 1338.2L2218.8 1338.2L2221.6 1338.2L2224.4 1338.1L2227.2 1338.1L2230.0 1338.1L2232.8 1338.1L2235.6 1338.1L2238.4 1338.1L2241.2 1338.1L2244.1 1338.1L2246.9 1338.1L2249.7 1338.1L2252.5 1338.1L2255.3 1338.1L2258.1 1338.1L2260.9 1338.1L2263.7 1338.2L2266.5 1338.2L2269.3 1338.2L2272.1 1338.2L2274.9 1338.2L2277.7 1338.2L2280.5 1338.2L2283.3 1338.2L2286.1 1338.2L2288.9 1338.2L2291.8 1338.2L2294.6 1338.3L2297.4 1338.3L2300.2 1338.3L2303.0 1338.3L2305.8 1338.3L2308.6 1338.3L2311.4 1338.4L2314.2 1338.4L2317.0 1338.4"/>
<path id="p1" d="M310.1 710.5L312.3 710.2L314.4 709.8L316.5 709.3L318.6 708.7L320.6 708.0L322.6 707.3L324.5 706.4L326.4 705.5L328.3 704.5L330.1 703.4L331.9 702.3L333.7 701.1L335.4 699.8L337.1 698.6L338.8 697.2L340.5 695.8L342.2 694.4L343.8 693.0L345.4 691.5L347.0 690.1L348.6 688.6L350.2 687.1L351.8 685.5L353.4 684.0L355.0 682.5L356.6 681.0L358.1 679.5L359.7 678.0L361.3 676.5L362.9 675.1L364.4 673.6L366.0 672.1L367.6 670.7L369.2 669.2L370.8 667.8L372.3 666.3L373.9 664.9L375.5 663.4L377.1 662.0L378.6 660.5L380.2 659.1L381.8 657.6L383.4 656.2L385.0 654.7L386.6 653.3L388.1 651.8L389.7 650.4L391.3 648.9L392.9 647.4L394.5 645.9L396.1 644.5L397.7 643.0L399.2 641.5L400.8 640.0L402.4 638.5L404.0 636.9L405.6 635.4L407.2 633.9L408.8 632.3L410.4 630.8L412.0 629.2L413.7 627.7L415.3 626.2L416.9 624.7L418.6 623.2L420.2 621.8L421.9 620.4L423.6 619.0L425.3 617.7L427.1 616.4L428.8 615.1L430.6 614.0L432.4 612.9L434.2 611.8L436.1 610.8L437.9 609.9L439.8 609.1L441.7 608.3L443.7 607.6L445.6 607.0L447.6 606.5L449.6 606.0L451.6 605.6L453.6 605.3L455.7 605.0L457.7 604.9L459.8 604.8L461.8 604.8L463.9 604.8L466.0 604.9L468.1 605.2L470.2 605.4L472.2 605.8L474.3 606.2L476.4 606.6L478.5 607.1L480.6 607.7L482.7 608.3L484.8 609.0L486.9 609.7L489.0 610.5L491.1 611.3L493.2 612.1L495.2 613.0L497.3 613.9L499.3 614.9L501.3 615.8L503.3 616.8L505.3 617.9L507.3 618.9L509.3 620.0L511.2 621.1L513.2 622.2L515.1 623.3L517.0 624.5L518.9 625.6L520.7 626.8L522.6 628.0L524.4 629.2L526.2 630.4L528.0 631.7L529.8 632.9L531.5 634.2L533.3 635.4L535.0 636.7L536.8 638.0L538.5 639.3L540.2 640.7L541.8 642.0L543.5 643.3L545.2 644.7L546.8 646.1L548.5 647.5L550.1 648.9L551.7 650.3L553.3 651.7L554.9 653.1L556.5 654.5L558.1 656.0L559.6 657.4L561.2 658.9L562.7 660.4L564.3 661.8L565.8 663.3L567.3 664.8L568.9 666.3L570.4 667.8L571.9 669.4L573.4 670.9L574.9 672.4L576.4 673.9L577.9 675.5L579.4 677.0L580.8 678.6L582.3 680.1L583.8 681.7L585.2 683.3L586.7 684.8L588.2 686.4L589.6 688.0L591.1 689.6L592.6 691.1L594.0 692.7L595.5 694.3L596.9 695.9L598.4 697.5L599.9 699.1L601.3 700.7L602.8 702.3L604.3 703.9L605.7 705.5L607.2 707.0L608.7 708.6L610.1 710.2L611.6 711.8L613.1 713.4L614.6 715.0L616.1 716.6L617.6 718.2L619.1 719.8L620.6 721.4L622.1 723.0L623.6 724.5L625.1 726.1L626.6 727.7L628.1 729.3L629.6 730.9L631.0 732.5L632.5 734.1L634.0 735.7L635.5 737.3L637.0 738.9L638.4 740.6L639.9 742.2L641.3 743.8L642.7 745.4L644.2 747.1L645.6 748.7L647.0 750.4L648.4 752.0L649.7 753.7L651.1 755.4L652.4 757.1L653.8 758.8L655.1 760.5L656.4 762.2L657.7 763.9L658.9 765.7L660.2 767.4L661.4 769.2L662.6 770.9L663.8 772.7L664.9 774.5L666.0 776.3L667.1 778.2L668.2 780.0L669.3 781.8L670.3 783.7L671.4 785.6L672.4 787.4L673.4 789.3L674.3 791.2L675.3 793.2L676.2 795.1L677.1 797.0L678.0 798.9L678.9 800.9L679.8 802.9L680.6 804.8L681.5 806.8L682.3 808.8L683.1 810.8L683.9 812.8L684.7 814.8L685.4 816.8L686.2 818.8L686.9 820.8L687.7 822.8L688.4 824.9L689.1 826.9L689.8 829.0L690.5 831.0L691.2 833.1L691.9 835.1L692.5 837.2L693.2 839.3L693.8 841.3L694.5 843.4L695.1 845.5L695.7 847.6L696.4 849.7L697.0 851.7L697.6 853.8L698.2 855.9L698.8 858.0L699.4 860.1L700.1 862.2L700.7 864.3L701.2 866.4L701.8 868.4L702.4 870.5L703.0 872.6L703.6 874.7L704.2 876.8L704.8 878.9L705.4 881.0L705.9 883.1L706.5 885.2L707.1 887.3L707.7 889.4L708.2 891.5L708.8 893.6L709.4 895.7L710.0 897.8L710.5 899.9L711.1 902.0L711.7 904.1L712.3 906.2L712.8 908.3L713.4 910.4L714.0 912.5L714.5 914.6L715.1 916.7L715.7 918.8L716.3 920.9L716.8 923.0L717.4 925.1L718.0 927.2L718.6 929.2L719.2 931.3L719.8 933.4L720.4 935.5L720.9 937.6L721.5 939.7L722.1 941.8L722.7 943.8L723.3 945.9L724.0 948.0L724.6 950.1L725.2 952.1L725.8 954.2L726.4 956.3L727.1 958.4L727.7 960.4L728.3 962.5L729.0 964.5L729.6 966.6L730.3 968.7L730.9 970.7L731.6 972.8L732.2 974.8L732.9 976.9L733.6 978.9L734.3 980.9L735.0 983.0L735.7 985.0L736.4 987.0L737.1 989.1L737.8 991.1L738.5 993.1L739.2 995.1L740.0 997.1L740.7 999.2L741.5 1001.2L742.2 1003.2L743.0 1005.2L743.8 1007.2L744.6 1009.2L745.4 1011.1L746.2 1013.1L747.0 1015.1L747.8 1017.1L748.6 1019.1L749.5 1021.0L750.3 1023.0L751.2 1025.0L752.0 1026.9L752.9 1028.9L753.8 1030.8L754.7 1032.8L755.5 1034.7L756.4 1036.7L757.3 1038.6L758.2 1040.6L759.1 1042.6L760.0 1044.5L761.0 1046.5L761.9 1048.4L762.8 1050.4L763.7 1052.4L764.6 1054.3L765.5 1056.3L766.5 1058.3L767.4 1060.2L768.3 1062.2L769.2 1064.2L770.2 1066.2L771.1 1068.2L772.0 1070.2L772.9 1072.2L773.8 1074.3L774.8 1076.3L775.7 1078.3L776.6 1080.3L777.5 1082.4L778.5 1084.4L779.4 1086.4L780.3 1088.4L781.3 1090.4L782.3 1092.4L783.2 1094.4L784.2 1096.4L785.3 1098.3L786.3 1100.3L787.3 1102.2L788.4 1104.1L789.5 1106.0L790.6 1107.9L791.7 1109.7L792.9 1111.6L794.0 1113.4L795.3 1115.2L796.5 1116.9L797.8 1118.6L799.1 1120.3L800.4 1122.0L801.7 1123.6L803.1 1125.1L804.6 1126.7L806.0 1128.2L807.6 1129.7L809.1 1131.1L810.7 1132.5L812.3 1133.9L813.9 1135.2L815.6 1136.5L817.3 1137.7L819.0 1139.0L820.7 1140.2L822.5 1141.3L824.3 1142.5L826.1 1143.6L827.9 1144.7L829.8 1145.7L831.7 1146.7L833.6 1147.7L835.5 1148.7L837.4 1149.7L839.4 1150.6L841.3 1151.5L843.3 1152.4L845.3 1153.2L847.3 1154.0L849.3 1154.9L851.3 1155.7L853.3 1156.4L855.3 1157.2L857.4 1157.9L859.4 1158.6L861.5 1159.3L863.5 1160.0L865.6 1160.7L867.7 1161.3L869.7 1161.9L871.8 1162.5L873.9 1163.1L876.0 1163.7L878.1 1164.3L880.2 1164.8L882.3 1165.4L884.5 1165.9L886.6 1166.4L888.7 1166.9L890.8 1167.4L893.0 1167.9L895.1 1168.3L897.2 1168.8L899.4 1169.2L901.5 1169.7L903.6 1170.1L905.8 1170.5L907.9 1170.9L910.1 1171.3L912.2 1171.7L914.4 1172.1L916.5 1172.5L918.6 1172.9L920.8 1173.2L922.9 1173.6L925.1 1174.0L927.2 1174.3L929.4 1174.6L931.5 1175.0L933.7 1175.3L935.8 1175.6L937.9 1176.0L940.1 1176.3L942.2 1176.6L944.4 1176.9L946.5 1177.2L948.7 1177.5L950.8 1177.8L953.0 1178.1L955.1 1178.3L957.2 1178.6L959.4 1178.9L961.5 1179.2L963.7 1179.4L965.8 1179.7L968.0 1179.9L970.1 1180.2L972.3 1180.5L974.4 1180.7L976.5 1181.0L978.7 1181.2L980.8 1181.5L983.0 1181.7L985.1 1181.9L987.3 1182.2L989.4 1182.4L991.6 1182.6L993.7 1182.9L995.8 1183.1L998.0 1183.3L1000.1 1183.6L1002.3 1183.8L1004.4 1184.0L1006.6 1184.3L1008.7 1184.5L1010.8 1184.7L1013.0 1184.9L1015.1 1185.2L1017.3 1185.4L1019.4 1185.6L1021.6 1185.9L1023.7 1186.1L1025.9 1186.3L1028.0 1186.6L1030.1 1186.8L1032.3 1187.0L1034.4 1187.3L1036.6 1187.5L1038.7 1187.7L1040.9 1188.0L1043.0 1188.2L1045.1 1188.5L1047.3 1188.7L1049.4 1189.0L1051.6 1189.2L1053.7 1189.5L1055.9 1189.7L1058.0 1190.0L1060.2 1190.3L1062.3 1190.5L1064.4 1190.8L1066.6 1191.1L1068.7 1191.3L1070.9 1191.6L1073.0 1191.9L1075.2 1192.2L1077.3 1192.5L1079.4 1192.7L1081.6 1193.0L1083.7 1193.3L1085.9 1193.6L1088.0 1193.9L1090.2 1194.2L1092.3 1194.5L1094.4 1194.8L1096.6 1195.1L1098.7 1195.4L1100.9 1195.7L1103.0 1196.0L1105.1 1196.3L1107.3 1196.6L1109.4 1196.9L1111.6 1197.2L1113.7 1197.5L1115.9 1197.8L1118.0 1198.1L1120.1 1198.4L1122.3 1198.7L1124.4 1199.0L1126.6 1199.3L1128.7 1199.6L1130.9 1200.0L1133.0 1200.3L1135.2 1200.6L1137.3 1200.9L1139.4 1201.2L1141.6 1201.5L1143.7 1201.8L1145.9 1202.1L1148.0 1202.4L1150.2 1202.8L1152.3 1203.1L1154.4 1203.4L1156.6 1203.7L1158.7 1204.0L1160.9 1204.3L1163.0 1204.6L1165.2 1204.9L1167.3 1205.2L1169.5 1205.5L1171.6 1205.8L1173.7 1206.1L1175.9 1206.4L1178.0 1206.7L1180.2 1207.0L1182.3 1207.3L1184.5 1207.6L1186.6 1207.9L1188.8 1208.2L1190.9 1208.5L1193.1 1208.8L1195.2 1209.1L1197.3 1209.4L1199.5 1209.7L1201.6 1209.9L1203.8 1210.2L1205.9 1210.5L1208.1 1210.8L1210.2 1211.1L1212.4 1211.4L1214.5 1211.6L1216.7 1211.9L1218.8 1212.2L1221.0 1212.5L1223.1 1212.8L1225.2 1213.0L1227.4 1213.3L1229.5 1213.6L1231.7 1213.9L1233.8 1214.2L1236.0 1214.4L1238.1 1214.7L1240.3 1215.0L1242.4 1215.3L1244.6 1215.5L1246.7 1215.8L1248.9 1216.1L1251.0 1216.4L1253.2 1216.6L1255.3 1216.9L1257.4 1217.2L1259.6 1217.5L1261.7 1217.7L1263.9 1218.0L1266.0 1218.3L1268.2 1218.5L1270.3 1218.8L1272.5 1219.1L1274.6 1219.4L1276.8 1219.6L1278.9 1219.9L1281.1 1220.2L1283.2 1220.5L1285.4 1220.7L1287.5 1221.0L1289.6 1221.3L1291.8 1221.6L1293.9 1221.8L1296.1 1222.1L1298.2 1222.4L1300.4 1222.7L1302.5 1223.0L1304.7 1223.2L1306.8 1223.5L1308.9 1223.8L1311.1 1224.1L1313.2 1224.4L1315.4 1224.6L1317.5 1224.9L1319.7 1225.2L1321.8 1225.5L1324.0 1225.8L1326.1 1226.1L1328.2 1226.4L1330.4 1226.6L1332.5 1226.9L1334.7 1227.2L1336.8 1227.5L1339.0 1227.8L1341.1 1228.1L1343.2 1228.4L1345.4 1228.7L1347.5 1229.0L1349.7 1229.3L1351.8 1229.6L1353.9 1229.9L1356.1 1230.2L1358.2 1230.5L1360.4 1230.8L1362.5 1231.1L1364.6 1231.4L1366.8 1231.7L1368.9 1232.0L1371.1 1232.4L1373.2 1232.7L1375.3 1233.0L1377.5 1233.3L1379.6 1233.6L1381.8 1233.9L1383.9 1234.3L1386.0 1234.6L1388.2 1234.9L1390.3 1235.3L1392.4 1235.6L1394.6 1235.9L1396.7 1236.2L1398.8 1236.6L1401.0 1236.9L1403.1 1237.3L1405.2 1237.6L1407.4 1238.0L1409.5 1238.3L1411.6 1238.7L1413.8 1239.0L1415.9 1239.4L1418.0 1239.7L1420.2 1240.1L1422.3 1240.4L1424.4 1240.8L1426.6 1241.2L1428.7 1241.5L1430.8 1241.9L1433.0 1242.3L1435.1 1242.6L1437.2 1243.0L1439.3 1243.4L1441.5 1243.8L1443.6 1244.2L1445.7 1244.5L1447.9 1244.9L1450.0 1245.3L1452.1 1245.7L1454.2 1246.1L1456.4 1246.5L1458.5 1246.9L1460.6 1247.3L1462.7 1247.7L1464.9 1248.1L1467.0 1248.5L1469.1 1248.9L1471.2 1249.3L1473.4 1249.7L1475.5 1250.1L1477.6 1250.5L1479.7 1250.9L1481.9 1251.4L1484.0 1251.8L1486.1 1252.2L1488.2 1252.6L1490.4 1253.0L1492.5 1253.4L1494.6 1253.9L1496.7 1254.3L1498.8 1254.7L1501.0 1255.1L1503.1 1255.6L1505.2 1256.0L1507.3 1256.4L1509.4 1256.8L1511.6 1257.3L1513.7 1257.7L1515.8 1258.1L1517.9 1258.6L1520.0 1259.0L1522.2 1259.4L1524.3 1259.9L1526.4 1260.3L1528.5 1260.7L1530.6 1261.2L1532.8 1261.6L1534.9 1262.1L1537.0 1262.5L1539.1 1262.9L1541.2 1263.4L1543.4 1263.8L1545.5 1264.2L1547.6 1264.7L1549.7 1265.1L1551.8 1265.6L1554.0 1266.0L1556.1 1266.5L1558.2 1266.9L1560.3 1267.3L1562.4 1267.8L1564.6 1268.2L1566.7 1268.7L1568.8 1269.1L1570.9 1269.5L1573.0 1270.0L1575.2 1270.4L1577.3 1270.9L1579.4 1271.3L1581.5 1271.8L1583.6 1272.2L1585.8 1272.6L1587.9 1273.1L1590.0 1273.5L1592.1 1274.0L1594.2 1274.4L1596.3 1274.8L1598.5 1275.3L1600.6 1275.7L1602.7 1276.1L1604.8 1276.6L1606.9 1277.0L1609.1 1277.5L1611.2 1277.9L1613.3 1278.3L1615.4 1278.8L1617.6 1279.2L1619.7 1279.6L1621.8 1280.0L1623.9 1280.5L1626.0 1280.9L1628.2 1281.3L1630.3 1281.8L1632.4 1282.2L1634.5 1282.6L1636.6 1283.0L1638.8 1283.5L1640.9 1283.9L1643.0 1284.3L1645.1 1284.7L1647.3 1285.1L1649.4 1285.6L1651.5 1286.0L1653.6 1286.4L1655.8 1286.8L1657.9 1287.2L1660.0 1287.6L1662.1 1288.0L1664.2 1288.4L1666.4 1288.8L1668.5 1289.2L1670.6 1289.6L1672.8 1290.0L1674.9 1290.4L1677.0 1290.8L1679.1 1291.2L1681.3 1291.6L1683.4 1292.0L1685.5 1292.4L1687.6 1292.8L1689.8 1293.2L1691.9 1293.6L1694.0 1294.0L1696.2 1294.3L1698.3 1294.7L1700.4 1295.1L1702.5 1295.5L1704.7 1295.8L1706.8 1296.2L1708.9 1296.6L1711.1 1296.9L1713.2 1297.3L1715.3 1297.7L1717.5 1298.0L1719.6 1298.4L1721.7 1298.7L1723.9 1299.1L1726.0 1299.4L1728.1 1299.8L1730.3 1300.1L1732.4 1300.5L1734.5 1300.8L1736.7 1301.1L1738.8 1301.5L1740.9 1301.8L1743.1 1302.1L1745.2 1302.5L1747.4 1302.8L1749.5 1303.1L1751.6 1303.5L1753.8 1303.8L1755.9 1304.1L1758.1 1304.4L1760.2 1304.7L1762.3 1305.0L1764.5 1305.4L1766.6 1305.7L1768.8 1306.0L1770.9 1306.3L1773.0 1306.6L1775.2 1306.9L1777.3 1307.2L1779.5 1307.5L1781.6 1307.8L1783.7 1308.1L1785.9 1308.4L1788.0 1308.7L1790.2 1308.9L1792.3 1309.2L1794.5 1309.5L1796.6 1309.8L1798.7 1310.1L1800.9 1310.4L1803.0 1310.6L1805.2 1310.9L1807.3 1311.2L1809.5 1311.4L1811.6 1311.7L1813.8 1312.0L1815.9 1312.3L1818.1 1312.5L1820.2 1312.8L1822.4 1313.0L1824.5 1313.3L1826.6 1313.6L1828.8 1313.8L1830.9 1314.1L1833.1 1314.3L1835.2 1314.6L1837.4 1314.8L1839.5 1315.0L1841.7 1315.3L1843.8 1315.5L1846.0 1315.8L1848.1 1316.0L1850.3 1316.2L1852.4 1316.5L1854.6 1316.7L1856.7 1316.9L1858.9 1317.2L1861.0 1317.4L1863.2 1317.6L1865.3 1317.9L1867.5 1318.1L1869.7 1318.3L1871.8 1318.5L1874.0 1318.7L1876.1 1319.0L1878.3 1319.2L1880.4 1319.4L1882.6 1319.6L1884.7 1319.8L1886.9 1320.0L1889.0 1320.2L1891.2 1320.4L1893.3 1320.6L1895.5 1320.8L1897.7 1321.0L1899.8 1321.2L1902.0 1321.4L1904.1 1321.6L1906.3 1321.8L1908.4 1322.0L1910.6 1322.2L1912.7 1322.4L1914.9 1322.6L1917.1 1322.8L1919.2 1322.9L1921.4 1323.1L1923.5 1323.3L1925.7 1323.5L1927.8 1323.7L1930.0 1323.8L1932.2 1324.0L1934.3 1324.2L1936.5 1324.4L1938.6 1324.5L1940.8 1324.7L1942.9 1324.9L1945.1 1325.0L1947.3 1325.2L1949.4 1325.4L1951.6 1325.5L1953.7 1325.7L1955.9 1325.8L1958.1 1326.0L1960.2 1326.2L1962.4 1326.3L1964.5 1326.5L1966.7 1326.6L1968.9 1326.8L1971.0 1326.9L1973.2 1327.1L1975.3 1327.2L1977.5 1327.4L1979.7 1327.5L1981.8 1327.6L1984.0 1327.8L1986.1 1327.9L1988.3 1328.1L1990.5 1328.2L1992.6 1328.3L1994.8 1328.5L1997.0 1328.6L1999.1 1328.7L2001.3 1328.9L2003.4 1329.0L2005.6 1329.1L2007.8 1329.3L2009.9 1329.4L2012.1 1329.5L2014.2 1329.6L2016.4 1329.8L2018.6 1329.9L2020.7 1330.0L2022.9 1330.1L2025.1 1330.2L2027.2 1330.4L2029.4 1330.5L2031.5 1330.6L2033.7 1330.7L2035.9 1330.8L2038.0 1330.9L2040.2 1331.0L2042.4 1331.1L2044.5 1331.3L2046.7 1331.4L2048.9 1331.5L2051.0 1331.6L2053.2 1331.7L2055.3 1331.8L2057.5 1331.9L2059.7 1332.0L2061.8 1332.1L2064.0 1332.2L2066.2 1332.3L2068.3 1332.4L2070.5 1332.5L2072.7 1332.6L2074.8 1332.6L2077.0 1332.7L2079.1 1332.8L2081.3 1332.9L2083.5 1333.0L2085.6 1333.1L2087.8 1333.2L2090.0 1333.3L2092.1 1333.3L2094.3 1333.4L2096.5 1333.5L2098.6 1333.6L2100.8 1333.7L2103.0 1333.8L2105.1 1333.8L2107.3 1333.9L2109.4 1334.0L2111.6 1334.1L2113.8 1334.1L2115.9 1334.2L2118.1 1334.3L2120.3 1334.4L2122.4 1334.4L2124.6 1334.5L2126.8 1334.6L2128.9 1334.6L2131.1 1334.7L2133.3 1334.8L2135.4 1334.8L2137.6 1334.9L2139.7 1335.0L2141.9 1335.0L2144.1 1335.1L2146.2 1335.2L2148.4 1335.2L2150.6 1335.3L2152.7 1335.4L2154.9 1335.4L2157.1 1335.5L2159.2 1335.5L2161.4 1335.6L2163.5 1335.6L2165.7 1335.7L2167.9 1335.8L2170.0 1335.8L2172.2 1335.9L2174.4 1335.9L2176.5 1336.0L2178.7 1336.0L2180.9 1336.1L2183.0 1336.1L2185.2 1336.2L2187.3 1336.2L2189.5 1336.3L2191.7 1336.3L2193.8 1336.4L2196.0 1336.4L2198.2 1336.5L2200.3 1336.5L2202.5 1336.5L2204.6 1336.6L2206.8 1336.6L2209.0 1336.7L2211.1 1336.7L2213.3 1336.8L2215.5 1336.8L2217.6 1336.8L2219.8 1336.9L2221.9 1336.9L2224.1 1337.0L2226.3 1337.0L2228.4 1337.0L2230.6 1337.1L2232.7 1337.1L2234.9 1337.1L2237.1 1337.2L2239.2 1337.2L2241.4 1337.2L2243.6 1337.3L2245.7 1337.3L2247.9 1337.4L2250.0 1337.4L2252.2 1337.4L2254.4 1337.4L2256.5 1337.5L2258.7 1337.5L2260.8 1337.5L2263.0 1337.6L2265.2 1337.6L2267.3 1337.6L2269.5 1337.7L2271.6 1337.7L2273.8 1337.7L2276.0 1337.7L2278.1 1337.8L2280.3 1337.8L2282.4 1337.8L2284.6 1337.9L2286.7 1337.9L2288.9 1337.9L2291.1 1337.9L2293.2 1338.0L2295.4 1338.0L2297.5 1338.0L2299.7 1338.0L2301.8 1338.0L2304.0 1338.1L2306.2 1338.1L2308.3 1338.1L2310.5 1338.1L2312.6 1338.2L2314.8 1338.2L2316.9 1338.2"/>
<path id="p3" d="M309.5 738.5L312.4 740.0L315.3 741.1L318.1 742.0L321.0 742.5L323.7 742.7L326.4 742.6L329.1 742.3L331.7 741.8L334.3 741.1L336.8 740.2L339.2 739.1L341.6 737.9L343.9 736.6L346.2 735.1L348.4 733.5L350.5 731.8L352.6 730.0L354.6 728.0L356.6 726.0L358.6 723.9L360.4 721.7L362.3 719.4L364.0 717.1L365.8 714.7L367.5 712.2L369.1 709.7L370.8 707.1L372.4 704.5L373.9 701.8L375.4 699.2L376.9 696.5L378.3 693.8L379.8 691.1L381.2 688.3L382.5 685.6L383.9 682.9L385.2 680.2L386.5 677.5L387.9 674.8L389.2 672.2L390.5 669.5L391.8 666.9L393.1 664.3L394.4 661.7L395.8 659.1L397.2 656.6L398.6 654.1L400.0 651.6L401.5 649.2L402.9 646.8L404.5 644.4L406.1 642.1L407.7 639.8L409.4 637.5L411.1 635.3L412.9 633.2L414.8 631.1L416.7 629.0L418.7 627.0L420.8 625.1L423.0 623.2L425.2 621.4L427.5 619.7L429.9 618.1L432.4 616.5L434.8 615.1L437.4 613.8L440.0 612.6L442.6 611.6L445.3 610.7L448.1 609.9L450.8 609.3L453.6 608.8L456.4 608.4L459.3 608.2L462.1 608.1L464.9 608.1L467.7 608.2L470.5 608.5L473.3 608.8L476.1 609.3L478.9 609.8L481.7 610.4L484.4 611.2L487.2 612.0L490.0 612.9L492.7 613.8L495.4 614.9L498.1 616.0L500.8 617.2L503.5 618.4L506.2 619.7L508.9 621.1L511.5 622.5L514.1 623.9L516.7 625.4L519.3 626.9L521.9 628.5L524.4 630.1L526.9 631.7L529.4 633.3L531.9 635.0L534.4 636.6L536.8 638.3L539.2 640.0L541.6 641.7L543.9 643.4L546.2 645.1L548.5 646.8L550.8 648.6L553.0 650.4L555.2 652.2L557.3 654.0L559.5 655.9L561.6 657.7L563.6 659.7L565.6 661.6L567.6 663.6L569.6 665.7L571.5 667.7L573.3 669.9L575.2 672.0L577.0 674.3L578.7 676.5L580.4 678.8L582.1 681.2L583.7 683.6L585.3 686.0L586.9 688.5L588.4 691.0L589.9 693.5L591.3 696.1L592.7 698.6L594.0 701.3L595.3 703.9L596.6 706.5L597.8 709.2L599.0 711.9L600.2 714.5L601.3 717.2L602.4 719.9L603.4 722.7L604.4 725.4L605.4 728.1L606.4 730.9L607.3 733.6L608.2 736.3L609.0 739.1L609.9 741.9L610.7 744.6L611.5 747.4L612.2 750.2L613.0 753.0L613.7 755.8L614.4 758.6L615.1 761.4L615.8 764.2L616.5 767.0L617.2 769.8L617.9 772.6L618.5 775.4L619.2 778.2L619.9 781.0L620.5 783.8L621.2 786.6L621.9 789.4L622.5 792.3L623.2 795.1L623.8 797.9L624.5 800.7L625.2 803.5L625.8 806.3L626.5 809.2L627.2 812.0L627.9 814.8L628.6 817.6L629.2 820.4L629.9 823.2L630.6 826.1L631.3 828.9L632.0 831.7L632.7 834.5L633.4 837.3L634.1 840.1L634.8 842.9L635.5 845.7L636.3 848.6L637.0 851.4L637.7 854.2L638.5 857.0L639.2 859.8L640.0 862.6L640.7 865.4L641.5 868.2L642.3 871.0L643.1 873.8L643.8 876.6L644.6 879.3L645.4 882.1L646.3 884.9L647.1 887.7L647.9 890.5L648.7 893.3L649.6 896.0L650.4 898.8L651.3 901.6L652.2 904.3L653.1 907.1L654.0 909.9L654.9 912.6L655.8 915.4L656.7 918.1L657.6 920.9L658.5 923.6L659.5 926.3L660.5 929.1L661.4 931.8L662.4 934.5L663.4 937.2L664.4 939.9L665.4 942.6L666.4 945.3L667.5 948.0L668.5 950.7L669.6 953.4L670.7 956.1L671.8 958.8L672.9 961.5L674.0 964.1L675.1 966.8L676.2 969.4L677.4 972.1L678.5 974.7L679.7 977.4L680.9 980.0L682.1 982.6L683.3 985.2L684.5 987.8L685.8 990.4L687.0 993.0L688.3 995.6L689.6 998.2L690.9 1000.8L692.2 1003.3L693.5 1005.9L694.9 1008.4L696.2 1011.0L697.6 1013.5L699.0 1016.0L700.4 1018.5L701.8 1021.1L703.2 1023.6L704.7 1026.1L706.2 1028.5L707.7 1031.0L709.2 1033.5L710.7 1035.9L712.2 1038.4L713.8 1040.8L715.3 1043.2L716.9 1045.7L718.5 1048.1L720.1 1050.5L721.8 1052.9L723.4 1055.3L725.1 1057.6L726.8 1060.0L728.5 1062.3L730.2 1064.7L732.0 1067.0L733.8 1069.3L735.5 1071.6L737.4 1073.9L739.2 1076.2L741.0 1078.5L742.9 1080.7L744.8 1083.0L746.7 1085.2L748.6 1087.4L750.5 1089.6L752.5 1091.8L754.5 1094.0L756.5 1096.1L758.5 1098.2L760.5 1100.3L762.6 1102.4L764.7 1104.4L766.8 1106.5L768.9 1108.5L771.0 1110.4L773.2 1112.4L775.4 1114.3L777.6 1116.2L779.8 1118.1L782.0 1119.9L784.3 1121.7L786.6 1123.5L788.9 1125.2L791.2 1126.9L793.6 1128.6L795.9 1130.2L798.3 1131.8L800.7 1133.4L803.2 1134.9L805.6 1136.4L808.1 1137.9L810.6 1139.3L813.1 1140.6L815.7 1142.0L818.2 1143.3L820.8 1144.5L823.4 1145.7L826.0 1146.9L828.7 1148.0L831.3 1149.1L834.0 1150.1L836.7 1151.2L839.4 1152.1L842.1 1153.1L844.8 1154.0L847.6 1154.9L850.4 1155.7L853.1 1156.5L855.9 1157.3L858.7 1158.0L861.5 1158.7L864.3 1159.4L867.2 1160.0L870.0 1160.6L872.9 1161.2L875.7 1161.8L878.6 1162.3L881.4 1162.8L884.3 1163.3L887.2 1163.7L890.1 1164.1L892.9 1164.5L895.8 1164.9L898.7 1165.2L901.6 1165.5L904.5 1165.8L907.4 1166.0L910.3 1166.3L913.2 1166.5L916.0 1166.7L918.9 1166.9L921.8 1167.0L924.7 1167.2L927.6 1167.3L930.5 1167.4L933.4 1167.5L936.3 1167.5L939.2 1167.6L942.1 1167.6L945.0 1167.6L947.9 1167.6L950.8 1167.6L953.7 1167.6L956.6 1167.6L959.5 1167.5L962.4 1167.5L965.3 1167.4L968.2 1167.3L971.1 1167.2L974.0 1167.2L976.9 1167.1L979.8 1167.0L982.7 1166.9L985.6 1166.7L988.5 1166.6L991.4 1166.5L994.3 1166.4L997.2 1166.2L1000.1 1166.1L1003.0 1166.0L1005.9 1165.9L1008.8 1165.7L1011.7 1165.6L1014.5 1165.5L1017.4 1165.3L1020.3 1165.2L1023.2 1165.1L1026.1 1165.0L1029.0 1164.9L1031.8 1164.7L1034.7 1164.6L1037.6 1164.5L1040.5 1164.4L1043.3 1164.3L1046.2 1164.1L1049.1 1164.0L1052.0 1163.9L1054.8 1163.7L1057.7 1163.6L1060.6 1163.4L1063.5 1163.3L1066.3 1163.1L1069.2 1163.0L1072.1 1162.8L1075.0 1162.6L1077.9 1162.4L1080.7 1162.2L1083.6 1162.0L1086.5 1161.8L1089.4 1161.6L1092.3 1161.3L1095.2 1161.1L1098.1 1160.8L1101.0 1160.5L1103.9 1160.2L1106.8 1159.9L1109.7 1159.6L1112.6 1159.3L1115.5 1158.9L1118.4 1158.6L1121.3 1158.2L1124.2 1157.7L1127.0 1157.3L1129.9 1156.8L1132.8 1156.4L1135.7 1155.8L1138.5 1155.3L1141.4 1154.7L1144.2 1154.1L1147.1 1153.5L1149.9 1152.8L1152.7 1152.1L1155.5 1151.4L1158.3 1150.6L1161.1 1149.8L1163.8 1149.0L1166.6 1148.1L1169.3 1147.2L1172.0 1146.2L1174.7 1145.2L1177.4 1144.2L1180.0 1143.1L1182.7 1141.9L1185.3 1140.8L1187.9 1139.5L1190.5 1138.3L1193.0 1137.0L1195.6 1135.6L1198.1 1134.3L1200.6 1132.8L1203.1 1131.4L1205.6 1129.9L1208.0 1128.4L1210.5 1126.9L1212.9 1125.3L1215.3 1123.7L1217.7 1122.0L1220.1 1120.4L1222.4 1118.7L1224.8 1117.0L1227.1 1115.2L1229.4 1113.5L1231.7 1111.7L1234.0 1109.9L1236.2 1108.0L1238.5 1106.2L1240.7 1104.3L1243.0 1102.5L1245.2 1100.6L1247.4 1098.6L1249.5 1096.7L1251.7 1094.8L1253.9 1092.8L1256.0 1090.9L1258.1 1088.9L1260.3 1086.9L1262.4 1084.9L1264.5 1082.9L1266.6 1080.9L1268.6 1078.9L1270.7 1076.8L1272.7 1074.8L1274.8 1072.7L1276.8 1070.7L1278.8 1068.6L1280.8 1066.5L1282.8 1064.4L1284.8 1062.3L1286.7 1060.2L1288.7 1058.1L1290.6 1055.9L1292.6 1053.8L1294.5 1051.6L1296.4 1049.5L1298.3 1047.3L1300.2 1045.1L1302.1 1043.0L1304.0 1040.8L1305.8 1038.6L1307.7 1036.4L1309.5 1034.1L1311.4 1031.9L1313.2 1029.7L1315.0 1027.5L1316.8 1025.2L1318.7 1023.0L1320.4 1020.7L1322.2 1018.4L1324.0 1016.2L1325.8 1013.9L1327.5 1011.6L1329.3 1009.3L1331.0 1007.0L1332.8 1004.7L1334.5 1002.4L1336.2 1000.1L1338.0 997.7L1339.7 995.4L1341.4 993.1L1343.1 990.7L1344.8 988.4L1346.4 986.0L1348.1 983.7L1349.8 981.3L1351.4 978.9L1353.1 976.6L1354.8 974.2L1356.4 971.8L1358.0 969.4L1359.7 967.0L1361.3 964.6L1362.9 962.2L1364.6 959.8L1366.2 957.4L1367.8 955.0L1369.4 952.6L1371.0 950.2L1372.6 947.7L1374.2 945.3L1375.8 942.9L1377.3 940.5L1378.9 938.0L1380.5 935.6L1382.1 933.1L1383.6 930.7L1385.2 928.3L1386.8 925.8L1388.3 923.4L1389.9 920.9L1391.4 918.5L1393.0 916.0L1394.5 913.5L1396.1 911.1L1397.6 908.6L1399.2 906.2L1400.7 903.7L1402.2 901.2L1403.8 898.8L1405.3 896.3L1406.8 893.8L1408.4 891.4L1409.9 888.9L1411.4 886.4L1412.9 883.9L1414.5 881.5L1416.0 879.0L1417.5 876.5L1419.0 874.0L1420.5 871.6L1422.0 869.1L1423.6 866.6L1425.1 864.1L1426.6 861.6L1428.1 859.2L1429.6 856.7L1431.1 854.2L1432.6 851.7L1434.1 849.2L1435.6 846.8L1437.1 844.3L1438.6 841.8L1440.1 839.3L1441.6 836.8L1443.1 834.4L1444.6 831.9L1446.2 829.4L1447.7 826.9L1449.2 824.4L1450.7 822.0L1452.2 819.5L1453.7 817.0L1455.2 814.5L1456.7 812.1L1458.2 809.6L1459.7 807.1L1461.2 804.6L1462.7 802.2L1464.2 799.7L1465.7 797.2L1467.2 794.7L1468.8 792.3L1470.3 789.8L1471.8 787.3L1473.3 784.9L1474.8 782.4L1476.3 780.0L1477.9 777.5L1479.4 775.0L1480.9 772.6L1482.4 770.1L1483.9 767.7L1485.5 765.2L1487.0 762.8L1488.5 760.3L1490.1 757.9L1491.6 755.4L1493.1 753.0L1494.7 750.6L1496.2 748.1L1497.8 745.7L1499.3 743.3L1500.9 740.8L1502.4 738.4L1504.0 736.0L1505.5 733.6L1507.1 731.2L1508.7 728.7L1510.2 726.3L1511.8 723.9L1513.4 721.5L1515.0 719.1L1516.5 716.7L1518.1 714.3L1519.7 711.9L1521.3 709.5L1522.9 707.1L1524.5 704.8L1526.1 702.4L1527.7 700.0L1529.3 697.7L1531.0 695.3L1532.6 692.9L1534.3 690.6L1535.9 688.3L1537.6 685.9L1539.3 683.6L1541.0 681.3L1542.7 679.0L1544.4 676.7L1546.1 674.5L1547.9 672.2L1549.6 669.9L1551.4 667.7L1553.2 665.5L1555.0 663.3L1556.9 661.1L1558.7 658.9L1560.6 656.7L1562.5 654.5L1564.4 652.4L1566.3 650.3L1568.3 648.2L1570.3 646.1L1572.3 644.0L1574.3 641.9L1576.3 639.9L1578.4 637.9L1580.5 635.9L1582.6 633.9L1584.8 632.0L1587.0 630.0L1589.2 628.1L1591.4 626.2L1593.7 624.3L1596.0 622.5L1598.3 620.7L1600.7 618.9L1603.1 617.1L1605.5 615.3L1608.0 613.6L1610.5 611.9L1613.0 610.2L1615.6 608.6L1618.2 607.0L1620.8 605.5L1623.4 604.0L1626.1 602.5L1628.7 601.2L1631.4 599.8L1634.2 598.6L1636.9 597.4L1639.6 596.3L1642.4 595.3L1645.1 594.3L1647.9 593.5L1650.7 592.7L1653.5 592.1L1656.3 591.5L1659.1 591.0L1661.9 590.7L1664.6 590.4L1667.4 590.3L1670.2 590.3L1673.0 590.4L1675.7 590.7L1678.5 591.0L1681.2 591.6L1683.9 592.2L1686.6 593.0L1689.2 593.8L1691.8 594.9L1694.4 596.0L1696.8 597.3L1699.3 598.6L1701.6 600.2L1703.9 601.8L1706.0 603.5L1708.2 605.4L1710.2 607.3L1712.1 609.4L1714.0 611.6L1715.8 613.8L1717.5 616.1L1719.2 618.5L1720.8 621.0L1722.4 623.5L1723.9 626.1L1725.3 628.8L1726.7 631.4L1728.0 634.1L1729.3 636.9L1730.6 639.6L1731.8 642.4L1733.0 645.2L1734.2 648.0L1735.3 650.8L1736.4 653.6L1737.5 656.3L1738.5 659.1L1739.6 661.8L1740.6 664.6L1741.6 667.3L1742.6 670.0L1743.5 672.7L1744.5 675.4L1745.4 678.2L1746.3 680.9L1747.2 683.6L1748.1 686.3L1749.0 689.0L1749.8 691.7L1750.7 694.5L1751.6 697.2L1752.4 699.9L1753.2 702.7L1754.1 705.4L1754.9 708.2L1755.7 710.9L1756.5 713.7L1757.3 716.4L1758.1 719.2L1758.9 722.0L1759.7 724.7L1760.4 727.5L1761.2 730.3L1761.9 733.1L1762.7 735.9L1763.4 738.6L1764.2 741.4L1764.9 744.2L1765.6 747.0L1766.3 749.8L1767.0 752.6L1767.7 755.4L1768.4 758.2L1769.1 761.0L1769.8 763.8L1770.5 766.7L1771.2 769.5L1771.8 772.3L1772.5 775.1L1773.2 777.9L1773.8 780.7L1774.5 783.6L1775.1 786.4L1775.8 789.2L1776.4 792.0L1777.1 794.9L1777.7 797.7L1778.3 800.5L1778.9 803.4L1779.6 806.2L1780.2 809.0L1780.8 811.9L1781.4 814.7L1782.1 817.6L1782.7 820.4L1783.3 823.2L1783.9 826.1L1784.5 828.9L1785.1 831.7L1785.7 834.6L1786.3 837.4L1786.9 840.3L1787.5 843.1L1788.1 846.0L1788.7 848.8L1789.3 851.6L1789.9 854.5L1790.5 857.3L1791.1 860.2L1791.7 863.0L1792.3 865.8L1792.9 868.7L1793.5 871.5L1794.1 874.3L1794.7 877.2L1795.3 880.0L1795.9 882.9L1796.5 885.7L1797.1 888.5L1797.7 891.4L1798.3 894.2L1798.9 897.0L1799.5 899.9L1800.1 902.7L1800.7 905.5L1801.3 908.4L1801.9 911.2L1802.5 914.0L1803.2 916.9L1803.8 919.7L1804.4 922.5L1805.0 925.3L1805.6 928.2L1806.2 931.0L1806.8 933.8L1807.4 936.7L1808.1 939.5L1808.7 942.3L1809.3 945.1L1809.9 948.0L1810.6 950.8L1811.2 953.6L1811.8 956.4L1812.4 959.2L1813.1 962.1L1813.7 964.9L1814.4 967.7L1815.0 970.5L1815.6 973.3L1816.3 976.2L1816.9 979.0L1817.6 981.8L1818.2 984.6L1818.9 987.4L1819.5 990.2L1820.2 993.0L1820.9 995.9L1821.5 998.7L1822.2 1001.5L1822.9 1004.3L1823.6 1007.1L1824.2 1009.9L1824.9 1012.7L1825.6 1015.5L1826.3 1018.3L1827.0 1021.1L1827.7 1023.9L1828.4 1026.7L1829.1 1029.5L1829.8 1032.3L1830.5 1035.1L1831.2 1037.9L1831.9 1040.7L1832.7 1043.5L1833.4 1046.3L1834.1 1049.1L1834.9 1051.9L1835.6 1054.7L1836.3 1057.5L1837.1 1060.3L1837.8 1063.1L1838.6 1065.8L1839.4 1068.6L1840.1 1071.4L1840.9 1074.2L1841.7 1077.0L1842.5 1079.8L1843.2 1082.5L1844.0 1085.3L1844.8 1088.1L1845.6 1090.9L1846.4 1093.7L1847.2 1096.4L1848.1 1099.2L1848.9 1102.0L1849.7 1104.7L1850.5 1107.5L1851.4 1110.3L1852.2 1113.0L1853.1 1115.8L1853.9 1118.6L1854.8 1121.3L1855.7 1124.1L1856.5 1126.9L1857.4 1129.6L1858.3 1132.4L1859.2 1135.1L1860.1 1137.9L1861.0 1140.6L1861.9 1143.4L1862.8 1146.1L1863.7 1148.9L1864.7 1151.6L1865.6 1154.4L1866.5 1157.1L1867.5 1159.9L1868.4 1162.6L1869.4 1165.3L1870.4 1168.1L1871.4 1170.8L1872.3 1173.6L1873.3 1176.3L1874.3 1179.0L1875.3 1181.8L1876.3 1184.5L1877.4 1187.2L1878.4 1189.9L1879.4 1192.7L1880.5 1195.4L1881.5 1198.1L1882.6 1200.8L1883.7 1203.5L1884.7 1206.2L1885.8 1208.9L1887.0 1211.6L1888.1 1214.3L1889.2 1217.0L1890.4 1219.6L1891.6 1222.3L1892.8 1224.9L1894.0 1227.5L1895.3 1230.1L1896.5 1232.7L1897.8 1235.3L1899.1 1237.9L1900.5 1240.4L1901.8 1243.0L1903.2 1245.5L1904.6 1248.0L1906.1 1250.4L1907.6 1252.9L1909.1 1255.3L1910.6 1257.7L1912.2 1260.1L1913.8 1262.5L1915.4 1264.8L1917.1 1267.1L1918.8 1269.4L1920.6 1271.7L1922.4 1273.9L1924.2 1276.1L1926.1 1278.3L1928.0 1280.4L1930.0 1282.5L1932.0 1284.6L1934.0 1286.6L1936.1 1288.6L1938.2 1290.6L1940.4 1292.5L1942.6 1294.4L1944.9 1296.3L1947.2 1298.1L1949.5 1299.8L1951.9 1301.6L1954.3 1303.3L1956.7 1304.9L1959.2 1306.5L1961.7 1308.0L1964.2 1309.5L1966.8 1310.9L1969.3 1312.3L1972.0 1313.6L1974.6 1314.9L1977.2 1316.1L1979.9 1317.3L1982.6 1318.3L1985.3 1319.4L1988.1 1320.3L1990.8 1321.2L1993.6 1322.1L1996.4 1322.8L1999.2 1323.5L2002.0 1324.2L2004.8 1324.7L2007.6 1325.2L2010.5 1325.7L2013.3 1326.1L2016.2 1326.4L2019.0 1326.7L2021.9 1327.0L2024.8 1327.2L2027.6 1327.4L2030.5 1327.5L2033.4 1327.7L2036.3 1327.8L2039.2 1327.8L2042.1 1327.9L2045.0 1328.0L2047.9 1328.0L2050.8 1328.1L2053.7 1328.1L2056.6 1328.2L2059.5 1328.3L2062.4 1328.3L2065.3 1328.4L2068.2 1328.5L2071.1 1328.6L2074.0 1328.8L2076.9 1328.9L2079.8 1329.0L2082.7 1329.2L2085.6 1329.3L2088.5 1329.5L2091.4 1329.6L2094.3 1329.8L2097.2 1329.9L2100.1 1330.1L2103.0 1330.3L2105.9 1330.5L2108.7 1330.6L2111.6 1330.8L2114.5 1331.0L2117.4 1331.2L2120.3 1331.4L2123.2 1331.5L2126.1 1331.7L2129.0 1331.9L2131.8 1332.1L2134.7 1332.2L2137.6 1332.4L2140.5 1332.6L2143.4 1332.7L2146.3 1332.9L2149.2 1333.1L2152.1 1333.2L2155.0 1333.3L2157.9 1333.5L2160.7 1333.6L2163.6 1333.7L2166.5 1333.9L2169.4 1334.0L2172.3 1334.1L2175.2 1334.2L2178.1 1334.3L2181.0 1334.4L2183.9 1334.5L2186.8 1334.6L2189.7 1334.7L2192.6 1334.8L2195.5 1334.9L2198.3 1335.0L2201.2 1335.0L2204.1 1335.1L2207.0 1335.2L2209.9 1335.3L2212.8 1335.3L2215.7 1335.4L2218.6 1335.5L2221.5 1335.6L2224.4 1335.6L2227.3 1335.7L2230.2 1335.7L2233.1 1335.8L2236.0 1335.9L2238.9 1335.9L2241.8 1336.0L2244.7 1336.0L2247.6 1336.1L2250.5 1336.2L2253.3 1336.2L2256.2 1336.3L2259.1 1336.3L2262.0 1336.4L2264.9 1336.5L2267.8 1336.5L2270.7 1336.6L2273.6 1336.6L2276.5 1336.7L2279.4 1336.8L2282.3 1336.8L2285.2 1336.9L2288.1 1337.0L2291.0 1337.1L2293.9 1337.1L2296.8 1337.2L2299.6 1337.3L2302.5 1337.4L2305.4 1337.4L2308.3 1337.5L2311.2 1337.6L2314.1 1337.7L2317.0 1337.8"/>
</g>
<path d="M309.30 66.20 H2317.40 V1345.20 H309.30 Z" fill="none" stroke="#000" stroke-width="8.8" stroke-linejoin="miter"/>
<g stroke="#000" stroke-width="3.0" fill="none" stroke-linecap="butt" stroke-linejoin="miter">
<path d="M644.5 189.3 L515.4 296.5 M527.1 268.9 L515.4 296.5 L545.6 291.0"/>
<path d="M644.5 340.5 L494.0 469.6 M504.2 442.0 L494.0 469.6 L523.2 463.2"/>
<path d="M773.7 667.7 L666.9 774.6 M675.1 746.1 L666.9 774.6 L693.6 767.7"/>
<path d="M774.0 885.1 L688.7 983.7 M694.7 955.3 L688.7 983.7 L716.8 973.9"/>
</g>
<g font-family="'Liberation Serif', 'Times New Roman', serif" font-size="84" fill="#000">
<text id="l2a" transform="translate(672.0 218.7) scale(1 1.022)">poly (<tspan font-weight="bold">2</tspan>)</text>
<text id="l4a" transform="translate(672.0 370.4) scale(1 1.022)">poly (<tspan font-weight="bold">4</tspan>)</text>
<text id="l1a" transform="translate(800.5 673.7) scale(1 1.022)">poly (<tspan font-weight="bold">1</tspan>)</text>
<text id="l3a" transform="translate(800.0 891.5) scale(1 1.022)">poly (<tspan font-weight="bold">3</tspan>)</text>
<text id="l3b" transform="translate(1564.0 544.0) scale(1 1.022)">Poly (<tspan font-weight="bold">3</tspan>)</text>
<text id="l2b" transform="translate(1476.5 1195.5) scale(1 1.022)">poly (<tspan font-weight="bold">2</tspan>)</text>
<text id="l1b" transform="translate(867.0 1262.0) scale(1 1.022)">poly (<tspan font-weight="bold">1</tspan>)</text>
<text id="l4b" transform="translate(476.0 1283.9) scale(1 1.022)">Poly (<tspan font-weight="bold">4</tspan>)</text>
<text id="y3" transform="translate(256.5 110.3) scale(1 1.022)" text-anchor="end">3</text>
<text id="y2" transform="translate(256.5 535.3) scale(1 1.022)" text-anchor="end">2</text>
<text id="y1" transform="translate(256.5 962.0) scale(1 1.022)" text-anchor="end">1</text>
<text id="y0" transform="translate(256.5 1387.0) scale(1 1.022)" text-anchor="end">0</text>
<text id="x235" transform="translate(288.7 1465.9) scale(1 1.022)" text-anchor="middle">235</text>
<text id="x300" transform="translate(650.3 1465.9) scale(1 1.022)" text-anchor="middle">300</text>
<text id="x400" transform="translate(1197.6 1465.9) scale(1 1.022)" text-anchor="middle">400</text>
<text id="x500" transform="translate(1748.6 1465.9) scale(1 1.022)" text-anchor="middle">500</text>
<text id="x600" transform="translate(2299.5 1465.9) scale(1 1.022)" text-anchor="middle">600</text>
<text id="abs" transform="translate(55 785.3) scale(1 1.022)">Abs</text>
<text id="wl" transform="translate(1016 1602.7) scale(0.99 1.022)">Wavelength (nm)</text>
</g>
</svg>
</body></html>
